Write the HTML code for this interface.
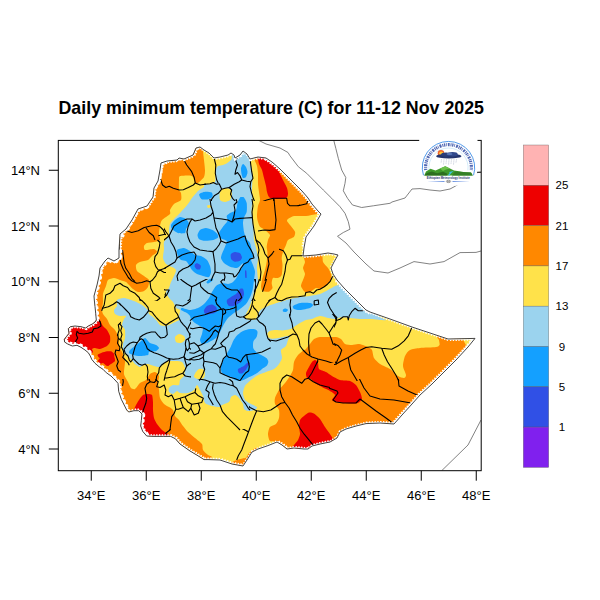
<!DOCTYPE html>
<html><head><meta charset="utf-8"><title>Daily minimum temperature</title>
<style>
html,body{margin:0;padding:0;background:#fff;}
body{width:600px;height:600px;overflow:hidden;position:relative;font-family:"Liberation Sans",sans-serif;}
svg{position:absolute;left:0;top:0;display:block;}
text{font-family:"Liberation Sans",sans-serif;fill:#000;}
.ax{font-size:13px;}
.cb{font-size:11.5px;}
.title{font-size:17.8px;font-weight:bold;}
</style></head><body>
<svg width="600" height="600" viewBox="0 0 600 600">
<defs><clipPath id="eth"><path d="M111 376 L106.3 372.7 L103 369.3 L99 366.7 L95 363.3 L91.7 359.3 L90.3 356 L88.3 352.7 L85 350 L81 347.3 L77 345.3 L72.3 346 L67.7 344 L64.6 342 L64.3 339.3 L66.3 336.7 L69 333.3 L68.3 328.7 L70.3 326.7 L75 326 L81 326.7 L85.7 328 L88.3 326 L92.3 324 L95 322 L96.3 320 L95.7 313.3 L95 306.7 L94.3 300 L94 296 L97 285 L99 276 L100 268 L105 261 L108 258 L114 261 L119 258 L119 250 L120 234 L126 229 L132 220 L138 209 L147 206 L153 197 L154 188 L158 181 L160 170 L161 163 L167 161 L177 160 L179 158 L184 159 L193 155 L196 148 L200 147 L204 150 L209 153 L214 158 L220 157 L228 155 L231 153 L234 155 L235 158 L240 155 L243 151 L247 154 L250 159 L258 157 L266 158 L272 162 L280 169 L288 177 L296 185 L302 191 L308 198 L312 204 L318 211 L321 214 L314 226 L306 237 L304 248 L303 256 L316 255 L328 253 L334 254 L338 255 L334 262 L331 268 L333 274 L337 280 L344 288 L352 296 L360 304 L366 310 L370 312 L390 319 L412 327 L430 333 L448 339 L475 338.4 L468 347 L456 360 L444 372 L432 384 L420 395 L412 404 L402 415 L394 424 L380 423 L366 423.6 L356 426 L346 429 L340 432 L337 438 L330 442 L320 444 L312 446 L308 449 L304 449 L294 448 L287 449 L282 445 L277 442 L268 445.6 L258 449 L252 452 L247 460 L243 466 L232 464 L220 460 L208 459.6 L204 459.6 L200 457 L190 451 L180 444 L175.3 438.7 L170.7 436.4 L163.3 436.4 L154 436.4 L146.7 436 L142.7 431.3 L140.7 426 L141.3 420.7 L142 414 L138.7 410.7 L134 410.7 L128.7 412 L126.7 410 L124.7 406 L121.3 399.3 L118.7 391.3 L118 383.3 L115 380 L113.7 378.7 Z"/></clipPath><clipPath id="frame"><rect x="58.3" y="140.4" width="422.9" height="330.3"/></clipPath><clipPath id="ag0"><rect x="-1" y="-1" width="207" height="202"/><rect x="-1" y="199" width="167" height="42"/></clipPath><clipPath id="ag1"><rect x="204" y="-1" width="197" height="202"/><rect x="279" y="199" width="122" height="42"/></clipPath><clipPath id="ag2"><rect x="279" y="239" width="67" height="62"/><rect x="254" y="279" width="27" height="22"/><rect x="269" y="299" width="77" height="17"/></clipPath><clipPath id="ag3"><rect x="344" y="279" width="97" height="37"/><rect x="334" y="314" width="107" height="67"/></clipPath><clipPath id="ag4"><rect x="329" y="379" width="152" height="102"/></clipPath><clipPath id="ag5"><rect x="-1" y="239" width="167" height="62"/><rect x="-1" y="299" width="122" height="37"/></clipPath><clipPath id="ag6"><rect x="-1" y="334" width="122" height="147"/><rect x="119" y="379" width="37" height="102"/></clipPath><clipPath id="ag7"><rect x="154" y="379" width="97" height="52"/></clipPath><clipPath id="ag8"><rect x="164" y="279" width="92" height="22"/></clipPath><clipPath id="ag9"><rect x="249" y="379" width="82" height="52"/><rect x="269" y="361" width="62" height="20"/><rect x="229" y="429" width="102" height="52"/></clipPath><clipPath id="ag10"><rect x="269" y="314" width="67" height="49"/></clipPath><clipPath id="ag11"><rect x="189" y="299" width="82" height="82"/></clipPath><clipPath id="ag12"><rect x="164" y="199" width="117" height="82"/></clipPath><clipPath id="ag13"><rect x="119" y="299" width="72" height="82"/></clipPath><clipPath id="ag14"><rect x="99" y="429" width="132" height="52"/></clipPath><clipPath id="ag15"><rect x="-1" y="-1" width="602" height="602"/></clipPath></defs>
<g clip-path="url(#eth)">
<path d="M111 376 L106.3 372.7 L103 369.3 L99 366.7 L95 363.3 L91.7 359.3 L90.3 356 L88.3 352.7 L85 350 L81 347.3 L77 345.3 L72.3 346 L67.7 344 L64.6 342 L64.3 339.3 L66.3 336.7 L69 333.3 L68.3 328.7 L70.3 326.7 L75 326 L81 326.7 L85.7 328 L88.3 326 L92.3 324 L95 322 L96.3 320 L95.7 313.3 L95 306.7 L94.3 300 L94 296 L97 285 L99 276 L100 268 L105 261 L108 258 L114 261 L119 258 L119 250 L120 234 L126 229 L132 220 L138 209 L147 206 L153 197 L154 188 L158 181 L160 170 L161 163 L167 161 L177 160 L179 158 L184 159 L193 155 L196 148 L200 147 L204 150 L209 153 L214 158 L220 157 L228 155 L231 153 L234 155 L235 158 L240 155 L243 151 L247 154 L250 159 L258 157 L266 158 L272 162 L280 169 L288 177 L296 185 L302 191 L308 198 L312 204 L318 211 L321 214 L314 226 L306 237 L304 248 L303 256 L316 255 L328 253 L334 254 L338 255 L334 262 L331 268 L333 274 L337 280 L344 288 L352 296 L360 304 L366 310 L370 312 L390 319 L412 327 L430 333 L448 339 L475 338.4 L468 347 L456 360 L444 372 L432 384 L420 395 L412 404 L402 415 L394 424 L380 423 L366 423.6 L356 426 L346 429 L340 432 L337 438 L330 442 L320 444 L312 446 L308 449 L304 449 L294 448 L287 449 L282 445 L277 442 L268 445.6 L258 449 L252 452 L247 460 L243 466 L232 464 L220 460 L208 459.6 L204 459.6 L200 457 L190 451 L180 444 L175.3 438.7 L170.7 436.4 L163.3 436.4 L154 436.4 L146.7 436 L142.7 431.3 L140.7 426 L141.3 420.7 L142 414 L138.7 410.7 L134 410.7 L128.7 412 L126.7 410 L124.7 406 L121.3 399.3 L118.7 391.3 L118 383.3 L115 380 L113.7 378.7 Z" fill="#ffe24a"/>
<path d="M203.0 146.0 C203.3 148.4 202.9 149.4 203.0 151.0 C203.1 152.6 203.8 157.8 204.0 160.0 C204.2 162.2 205.0 168.0 205.0 170.0 C205.0 172.0 204.8 175.5 204.0 177.0 C203.2 178.5 199.1 182.3 198.0 183.0 C196.9 183.7 195.6 183.7 195.0 183.0 C194.4 182.3 193.6 177.9 193.0 177.0 C192.4 176.1 191.5 175.5 190.0 175.4 C188.5 175.3 181.3 175.5 180.0 176.0 C178.7 176.5 179.1 178.4 179.0 180.0 C178.9 181.6 178.8 188.5 179.0 190.0 C179.2 191.5 180.8 191.8 181.0 193.0 C181.2 194.2 181.8 198.7 181.0 200.0 C180.2 201.3 175.3 202.8 174.0 204.0 C172.7 205.2 170.5 208.8 170.0 210.0 C169.5 211.2 170.9 212.8 170.0 214.0 C169.1 215.2 163.2 218.6 162.0 220.0 C160.8 221.4 160.3 224.4 160.0 226.0 C159.7 227.6 159.0 232.4 159.0 234.0 C159.0 235.6 160.6 239.1 160.0 240.0 C159.4 240.9 155.5 241.7 154.0 242.0 C152.5 242.3 148.2 242.5 147.0 243.0 C145.8 243.5 144.2 245.2 144.0 246.0 C143.8 246.8 143.8 249.7 145.0 250.0 C146.2 250.3 152.6 248.8 154.0 249.0 C155.4 249.2 157.2 251.2 157.0 252.0 C156.8 252.8 153.1 255.1 152.0 256.0 C150.9 256.9 149.4 259.3 148.0 260.0 C146.6 260.7 141.4 261.4 140.0 262.0 C138.6 262.6 136.3 263.9 136.0 265.0 C135.7 266.1 136.1 269.7 137.0 271.0 C137.9 272.3 142.6 274.9 144.0 276.0 C145.4 277.1 148.5 278.7 149.0 280.0 C149.5 281.3 148.6 285.7 148.0 287.0 C147.4 288.3 145.2 290.4 144.0 291.0 C142.8 291.6 139.3 292.2 138.0 292.0 C136.7 291.8 134.1 289.8 133.0 289.0 C131.9 288.2 129.8 285.8 129.0 285.0 C128.2 284.2 127.0 282.6 126.0 282.0 C125.0 281.4 121.4 280.5 120.0 280.0 C118.6 279.5 115.4 278.0 114.0 278.0 C112.6 278.0 108.9 279.1 108.0 280.0 C107.1 280.9 106.6 284.4 106.0 286.0 C105.4 287.6 103.3 292.1 103.0 294.0 C102.7 295.9 103.1 300.1 103.0 302.0 C102.9 303.9 102.0 308.6 102.0 310.0 C102.0 311.4 102.4 312.9 103.0 314.0 C103.6 315.1 106.2 317.7 107.0 319.0 C107.8 320.3 109.1 323.7 110.0 325.0 C110.9 326.3 114.1 328.7 115.0 330.0 C115.9 331.3 117.5 334.4 118.0 336.0 C118.5 337.6 118.7 342.4 119.0 344.0 C119.3 345.6 120.4 348.6 121.0 350.0 C121.6 351.4 123.5 354.6 124.0 356.0 C124.5 357.4 125.0 359.9 125.0 362.0 C125.0 364.1 123.7 371.7 124.0 374.0 C124.3 376.3 127.2 380.4 128.0 382.0 C128.8 383.6 130.2 387.2 131.0 388.0 C131.8 388.8 133.9 389.6 135.0 389.0 C136.1 388.4 138.7 384.1 140.0 383.0 C141.3 381.9 144.8 381.1 146.0 380.0 C147.2 378.9 148.9 374.9 150.0 374.0 C151.1 373.1 153.9 371.8 155.0 372.0 C156.1 372.2 158.7 374.7 159.0 376.0 C159.3 377.3 158.0 381.4 158.0 383.0 C158.0 384.6 158.8 388.2 159.0 390.0 C159.2 391.8 159.4 396.4 160.0 398.0 C160.6 399.6 162.9 402.9 164.0 404.0 C165.1 405.1 167.9 406.3 169.0 407.0 C170.1 407.7 172.3 408.9 173.0 410.0 C173.7 411.1 174.3 414.8 175.0 416.0 C175.7 417.2 178.1 418.8 179.0 420.0 C179.9 421.2 181.9 424.6 183.0 426.0 C184.1 427.4 186.6 430.6 188.0 432.0 C189.4 433.4 193.4 436.6 195.0 438.0 C196.6 439.4 201.1 442.6 202.0 444.0 C202.9 445.4 202.3 448.7 203.0 450.0 C203.7 451.3 206.9 454.2 208.0 455.0 C209.1 455.8 211.9 456.2 212.0 457.0 C212.1 457.8 209.8 459.3 209.0 462.0 C208.2 464.7 223.6 477.9 205.0 480.0 C186.4 482.1 68.1 520.8 50.0 480.0 C31.9 439.2 32.5 170.8 50.0 130.0 C67.5 89.2 182.2 128.1 200.0 130.0 C217.8 131.9 202.7 143.6 203.0 146.0 Z" fill="#ff8800"/>
<path d="M231.0 463.0 C231.0 462.1 237.0 460.0 238.3 459.5 C239.6 459.0 241.6 458.7 242.5 458.5 C243.4 458.3 245.0 458.4 245.8 457.8 C246.6 457.2 248.1 454.0 249.0 453.0 C249.9 452.0 252.4 450.1 253.3 449.5 C254.2 448.9 256.5 447.4 257.0 447.5 C257.5 447.6 258.6 449.0 258.0 450.0 C257.4 451.0 253.3 454.6 252.0 456.0 C250.7 457.4 247.8 460.6 247.0 462.0 C246.2 463.4 246.1 467.4 245.0 468.0 C243.9 468.6 239.6 467.6 238.0 467.0 C236.4 466.4 231.0 463.9 231.0 463.0 Z" fill="#ff8800"/>
<path d="M253.0 154.0 C252.9 156.2 253.5 157.6 254.0 159.0 C254.5 160.4 256.5 164.2 257.0 166.0 C257.5 167.8 257.9 171.9 258.0 174.0 C258.1 176.1 257.9 181.9 258.0 184.0 C258.1 186.1 258.8 190.1 259.0 192.0 C259.2 193.9 260.1 198.4 260.0 200.0 C259.9 201.6 258.4 204.1 258.0 206.0 C257.6 207.9 257.0 214.1 257.0 216.0 C257.0 217.9 257.6 220.8 258.0 222.0 C258.4 223.2 259.2 225.8 260.0 226.7 C260.8 227.6 263.8 229.0 265.0 230.0 C266.2 231.0 269.6 233.8 270.0 235.0 C270.4 236.2 268.4 238.6 268.0 240.0 C267.6 241.4 266.8 245.2 266.7 246.7 C266.6 248.2 267.5 251.2 267.5 253.0 C267.5 254.8 267.0 259.7 266.7 261.7 C266.4 263.7 265.5 268.1 265.0 270.0 C264.5 271.9 263.0 276.1 262.5 278.0 C262.0 279.9 261.0 285.2 261.0 286.7 C261.0 288.2 261.6 290.4 262.5 291.0 C263.4 291.6 267.8 292.1 269.0 291.7 C270.2 291.3 272.2 289.0 272.5 288.0 C272.8 287.0 271.6 284.2 271.7 283.0 C271.8 281.8 272.3 278.6 273.0 278.0 C273.7 277.4 277.0 278.4 278.0 278.0 C279.0 277.6 281.2 276.5 281.7 275.0 C282.2 273.5 282.5 267.0 282.5 265.0 C282.5 263.0 281.6 259.6 281.7 258.0 C281.8 256.4 282.5 253.2 283.0 251.7 C283.5 250.2 285.4 246.4 286.0 245.0 C286.6 243.6 287.1 241.0 288.0 240.0 C288.9 239.0 293.2 237.7 294.0 236.7 C294.8 235.7 295.5 233.1 295.0 231.7 C294.5 230.3 290.9 226.2 290.0 225.0 C289.1 223.8 287.2 221.7 287.0 221.0 C286.8 220.3 287.2 219.6 288.0 219.0 C288.8 218.4 291.9 216.3 294.0 216.0 C296.1 215.7 303.3 216.2 306.0 216.0 C308.7 215.8 314.2 214.5 317.0 214.0 C319.8 213.5 328.5 214.8 330.0 212.0 C331.5 209.2 333.5 197.2 330.0 190.0 C326.5 182.8 308.8 155.8 300.0 150.0 C291.2 144.2 260.5 139.5 255.0 140.0 C249.5 140.5 253.1 151.8 253.0 154.0 Z" fill="#ff8800"/>
<path d="M304.0 254.0 C305.9 252.8 318.8 251.1 321.0 252.0 C323.2 252.9 322.2 260.1 323.0 262.0 C323.8 263.9 327.1 266.6 328.0 268.0 C328.9 269.4 330.6 272.6 331.0 274.0 C331.4 275.4 331.6 278.6 331.0 280.0 C330.4 281.4 327.3 284.9 326.0 286.0 C324.7 287.1 321.2 288.8 320.0 289.0 C318.8 289.2 317.2 287.6 316.0 288.0 C314.8 288.4 311.3 291.5 310.0 292.0 C308.7 292.5 306.1 292.7 305.0 292.0 C303.9 291.3 301.2 287.4 301.0 286.0 C300.8 284.6 302.5 281.4 303.0 280.0 C303.5 278.6 305.0 275.4 305.0 274.0 C305.0 272.6 303.0 269.4 303.0 268.0 C303.0 266.6 304.9 263.6 305.0 262.0 C305.1 260.4 302.1 255.2 304.0 254.0 Z" fill="#ff8800"/>
<path d="M279.0 446.0 C279.8 442.7 278.1 442.6 277.0 442.0 C275.9 441.4 271.1 441.9 270.0 441.0 C268.9 440.1 268.0 435.6 268.0 434.0 C268.0 432.4 269.1 428.2 270.0 427.0 C270.9 425.8 274.9 425.1 276.0 424.0 C277.1 422.9 278.6 419.6 279.0 418.0 C279.4 416.4 279.5 411.6 279.0 410.0 C278.5 408.4 275.5 405.4 275.0 404.0 C274.5 402.6 274.5 399.6 275.0 398.0 C275.5 396.4 277.8 391.8 279.0 390.0 C280.2 388.2 283.7 384.6 285.0 383.0 C286.3 381.4 289.1 377.5 290.0 376.0 C290.9 374.5 292.5 371.6 293.0 370.0 C293.5 368.4 293.4 363.8 294.0 362.0 C294.6 360.2 296.8 356.4 298.0 355.0 C299.2 353.6 303.2 350.6 304.0 350.0 C304.8 349.4 304.3 350.7 305.0 350.0 C305.7 349.3 308.9 345.3 310.0 344.0 C311.1 342.7 312.8 339.8 314.0 339.0 C315.2 338.2 318.4 337.2 320.0 337.0 C321.6 336.8 326.1 337.0 328.0 337.0 C329.9 337.0 334.5 336.8 336.0 337.0 C337.5 337.2 339.9 338.2 341.0 339.0 C342.1 339.8 343.7 343.3 345.0 344.0 C346.3 344.7 350.5 345.0 352.0 345.0 C353.5 345.0 356.7 344.0 358.0 344.0 C359.3 344.0 361.8 344.6 363.0 345.0 C364.2 345.4 366.9 346.4 368.0 347.0 C369.1 347.6 371.3 348.7 372.0 350.0 C372.7 351.3 373.1 356.4 374.0 358.0 C374.9 359.6 378.1 362.7 380.0 364.0 C381.9 365.3 387.9 367.6 390.0 369.0 C392.1 370.4 396.4 374.9 398.0 376.0 C399.6 377.1 403.1 378.1 404.0 378.0 C404.9 377.9 406.1 376.4 406.0 375.0 C405.9 373.6 403.1 368.2 403.0 366.0 C402.9 363.8 404.2 357.9 405.0 356.0 C405.8 354.1 408.2 350.9 410.0 350.0 C411.8 349.1 417.0 348.4 420.0 348.0 C423.0 347.6 433.7 347.4 436.0 347.0 C438.3 346.6 439.1 345.8 439.5 345.0 C439.9 344.2 439.1 341.3 439.0 340.0 C438.9 338.7 433.7 335.2 438.5 334.0 C443.3 332.8 474.0 328.7 480.0 330.0 C486.0 331.3 499.3 332.2 490.0 345.0 C480.7 357.8 418.7 425.4 400.0 440.0 C381.3 454.6 345.2 466.5 330.0 470.0 C314.8 473.5 275.9 472.8 270.0 470.0 C264.1 467.2 278.2 449.3 279.0 446.0 Z" fill="#ff8800"/>
<path d="M256.0 154.0 C256.9 153.5 264.1 153.9 266.0 155.0 C267.9 156.1 270.7 161.5 272.0 163.0 C273.3 164.5 276.1 166.7 277.0 168.0 C277.9 169.3 279.2 172.4 280.0 174.0 C280.8 175.6 283.2 180.4 284.0 182.0 C284.8 183.6 286.5 186.6 287.0 188.0 C287.5 189.4 288.1 192.8 288.0 194.0 C287.9 195.2 287.6 197.4 286.0 198.0 C284.4 198.6 276.0 199.1 274.0 199.0 C272.0 198.9 269.8 197.8 269.0 197.0 C268.2 196.2 267.4 193.3 267.0 192.0 C266.6 190.7 266.4 187.6 266.0 186.0 C265.6 184.4 264.5 179.9 264.0 178.0 C263.5 176.1 262.6 171.6 262.0 170.0 C261.4 168.4 259.5 165.3 259.0 164.0 C258.5 162.7 258.4 160.2 258.0 159.0 C257.6 157.8 255.1 154.5 256.0 154.0 Z" fill="#ee0000"/>
<path d="M68.0 330.0 C68.5 328.9 69.6 327.5 71.0 327.0 C72.4 326.5 78.2 326.1 80.0 326.0 C81.8 325.9 84.6 326.2 86.0 326.0 C87.4 325.8 91.2 324.6 92.0 324.0 C92.8 323.4 92.6 322.4 93.0 321.0 C93.4 319.6 95.0 312.9 95.5 312.0 C96.0 311.1 97.2 312.3 97.5 313.0 C97.8 313.7 98.2 317.2 98.5 318.0 C98.8 318.8 99.5 319.1 100.0 320.0 C100.5 320.9 102.2 324.8 103.0 326.0 C103.8 327.2 106.2 328.8 107.0 330.0 C107.8 331.2 109.7 334.6 110.0 336.0 C110.3 337.4 110.3 340.8 110.0 342.0 C109.7 343.2 107.8 345.3 107.0 346.0 C106.2 346.7 103.9 347.6 103.0 348.0 C102.1 348.4 99.9 349.0 99.0 349.0 C98.1 349.0 95.8 348.0 95.0 348.0 C94.2 348.0 92.2 348.5 92.0 349.0 C91.8 349.5 93.2 351.4 93.0 352.0 C92.8 352.6 90.8 354.2 90.0 354.0 C89.2 353.8 87.2 350.6 86.0 350.0 C84.8 349.4 81.4 349.4 80.0 349.0 C78.6 348.6 75.9 347.4 74.0 347.0 C72.1 346.6 65.4 346.7 64.0 346.0 C62.6 345.3 61.6 342.2 62.0 341.0 C62.4 339.8 66.3 337.3 67.0 336.0 C67.7 334.7 67.5 331.1 68.0 330.0 Z" fill="#ee0000"/>
<path d="M97.7 354.7 C98.1 354.2 100.6 353.1 101.7 352.7 C102.8 352.3 105.9 351.5 107.0 351.3 C108.1 351.1 110.2 351.1 111.0 351.3 C111.8 351.5 113.3 352.8 113.7 353.3 C114.1 353.8 114.5 355.2 114.3 356.0 C114.1 356.8 112.8 359.1 112.3 360.0 C111.8 360.9 110.8 362.6 110.3 363.3 C109.8 364.0 108.8 365.9 108.3 366.0 C107.8 366.1 106.3 364.5 105.7 364.0 C105.1 363.5 103.6 361.9 103.0 361.3 C102.4 360.7 100.8 359.2 100.3 358.7 C99.8 358.2 98.6 357.2 98.3 356.7 C98.0 356.2 97.3 355.2 97.7 354.7 Z" fill="#ee0000"/>
<path d="M143.0 395.0 C144.1 394.3 146.9 394.0 148.0 394.0 C149.1 394.0 151.4 394.1 152.0 395.0 C152.6 395.9 152.9 400.2 153.0 402.0 C153.1 403.8 152.9 408.1 153.0 410.0 C153.1 411.9 153.5 416.4 154.0 418.0 C154.5 419.6 156.1 422.6 157.0 424.0 C157.9 425.4 160.7 428.8 162.0 430.0 C163.3 431.2 167.1 433.2 168.0 434.0 C168.9 434.8 169.8 436.3 170.0 437.0 C170.2 437.7 172.6 439.6 170.0 440.0 C167.4 440.4 151.2 440.6 148.0 440.0 C144.8 439.4 143.9 436.5 143.0 435.0 C142.1 433.5 140.3 429.0 140.0 427.0 C139.7 425.0 140.2 419.8 140.0 418.0 C139.8 416.2 138.7 412.9 138.0 412.0 C137.3 411.1 134.2 410.8 134.0 410.0 C133.8 409.2 135.4 406.2 136.0 405.0 C136.6 403.8 138.2 401.2 139.0 400.0 C139.8 398.8 141.9 395.7 143.0 395.0 Z" fill="#ee0000"/>
<path d="M100.0 358.0 C100.7 357.2 102.8 354.6 104.0 354.0 C105.2 353.4 108.8 352.8 110.0 353.0 C111.2 353.2 113.4 355.1 114.0 356.0 C114.6 356.9 115.3 360.1 115.0 361.0 C114.7 361.9 111.9 363.4 111.0 364.0 C110.1 364.6 107.9 366.1 107.0 366.0 C106.1 365.9 103.8 363.2 103.0 363.0 C102.2 362.8 100.6 364.2 100.0 364.0 C99.4 363.8 98.0 361.7 98.0 361.0 C98.0 360.3 99.3 358.8 100.0 358.0 Z" fill="#ee0000"/>
<path d="M315.0 360.0 C315.7 360.1 317.5 361.9 318.0 363.0 C318.5 364.1 318.1 367.9 319.0 369.0 C319.9 370.1 324.5 371.2 326.0 372.0 C327.5 372.8 330.4 375.1 332.0 376.0 C333.6 376.9 337.9 379.4 340.0 380.0 C342.1 380.6 348.1 380.4 350.0 381.0 C351.9 381.6 354.8 383.7 356.0 385.0 C357.2 386.3 359.3 390.4 360.0 392.0 C360.7 393.6 362.2 397.7 362.0 399.0 C361.8 400.3 359.3 402.5 358.0 403.0 C356.7 403.5 352.8 403.6 351.0 403.6 C349.2 403.6 344.8 403.2 343.0 403.0 C341.2 402.8 337.3 402.4 336.0 402.0 C334.7 401.6 332.1 400.8 332.0 400.0 C331.9 399.2 335.2 396.1 335.0 395.0 C334.8 393.9 331.5 391.9 330.0 391.0 C328.5 390.1 323.8 387.9 322.0 387.0 C320.2 386.1 316.3 383.9 315.0 383.0 C313.7 382.1 311.9 379.6 311.0 379.0 C310.1 378.4 307.6 378.7 307.0 378.0 C306.4 377.3 305.8 374.3 306.0 373.0 C306.2 371.7 308.3 368.3 309.0 367.0 C309.7 365.7 311.3 362.8 312.0 362.0 C312.7 361.2 314.3 359.9 315.0 360.0 Z" fill="#ee0000"/>
<path d="M291.0 449.0 C291.5 447.8 293.2 446.1 294.0 445.0 C294.8 443.9 297.3 441.3 298.0 440.0 C298.7 438.7 299.9 435.5 300.0 434.0 C300.1 432.5 299.0 428.6 299.0 427.0 C299.0 425.4 299.4 421.3 300.0 420.0 C300.6 418.7 302.9 416.9 304.0 416.0 C305.1 415.1 307.8 412.8 309.0 412.5 C310.2 412.2 312.7 412.8 314.0 413.6 C315.3 414.4 318.7 417.4 320.0 419.0 C321.3 420.6 323.8 425.2 325.0 427.0 C326.2 428.8 329.1 432.6 330.0 434.0 C330.9 435.4 332.4 437.7 333.0 439.0 C333.6 440.3 335.4 443.1 335.0 445.0 C334.6 446.9 335.2 453.8 330.0 455.0 C324.8 456.2 294.6 455.7 290.0 455.0 C285.4 454.3 290.5 450.2 291.0 449.0 Z" fill="#ee0000"/>
<path d="M233.0 152.0 C231.0 152.8 232.2 157.8 231.6 159.0 C231.0 160.2 229.0 161.7 228.0 162.4 C227.0 163.1 224.2 164.6 223.0 165.0 C221.8 165.4 218.8 165.5 218.0 166.0 C217.2 166.5 216.3 167.8 216.0 169.0 C215.7 170.2 215.7 174.5 215.6 176.0 C215.5 177.5 215.5 181.1 215.0 182.0 C214.5 182.9 212.3 183.7 211.0 184.0 C209.7 184.3 204.8 184.1 204.0 184.4 C203.2 184.8 204.7 186.2 204.0 187.0 C203.3 187.8 199.4 189.7 198.0 191.0 C196.6 192.3 193.2 196.5 192.0 198.0 C190.8 199.5 189.4 202.2 188.0 204.0 C186.6 205.8 181.6 211.2 180.0 213.0 C178.4 214.8 175.2 217.7 174.0 219.0 C172.8 220.3 170.6 222.7 170.0 224.0 C169.4 225.3 169.1 228.6 169.0 230.0 C168.9 231.4 169.6 234.6 169.0 236.0 C168.4 237.4 164.6 240.5 164.0 242.0 C163.4 243.5 164.1 247.5 164.0 249.0 C163.9 250.5 163.0 254.9 163.0 255.0 C163.0 255.1 164.0 249.7 164.0 250.0 C164.0 250.3 162.8 256.4 163.0 258.0 C163.2 259.6 164.9 262.9 166.0 264.0 C167.1 265.1 170.8 266.3 172.0 267.0 C173.2 267.7 175.8 268.9 176.0 270.0 C176.2 271.1 174.6 274.6 174.0 276.0 C173.4 277.4 171.6 280.6 171.0 282.0 C170.4 283.4 169.6 286.8 169.0 288.0 C168.4 289.2 166.0 290.8 166.0 292.0 C166.0 293.2 168.2 296.8 169.0 298.0 C169.8 299.2 172.2 300.8 173.0 302.0 C173.8 303.2 175.2 307.1 176.0 308.0 C176.8 308.9 179.7 309.1 180.0 310.0 C180.3 310.9 179.1 314.8 179.0 316.0 C178.9 317.2 179.8 319.1 179.0 320.0 C178.2 320.9 173.5 322.8 172.0 323.5 C170.5 324.2 167.4 325.8 166.0 326.0 C164.6 326.2 161.1 325.6 160.0 325.0 C158.9 324.4 157.8 321.9 157.0 321.0 C156.2 320.1 153.9 317.8 153.0 317.0 C152.1 316.2 149.6 314.8 149.0 314.0 C148.4 313.2 148.8 311.1 148.0 310.0 C147.2 308.9 143.6 306.1 142.0 305.0 C140.4 303.9 136.1 301.8 134.0 301.0 C131.9 300.2 126.0 298.1 124.0 298.0 C122.0 297.9 117.8 299.1 117.0 300.0 C116.2 300.9 117.3 304.8 117.0 306.0 C116.7 307.2 114.2 309.1 114.0 310.0 C113.8 310.9 114.3 313.3 115.0 314.0 C115.7 314.7 118.7 315.8 120.0 316.0 C121.3 316.2 125.5 315.6 126.0 316.0 C126.5 316.4 124.5 317.9 124.0 319.0 C123.5 320.1 121.9 323.7 122.0 325.0 C122.1 326.3 124.7 328.5 125.0 330.0 C125.3 331.5 125.2 336.4 125.0 338.0 C124.8 339.6 123.2 342.6 123.0 344.0 C122.8 345.4 122.5 348.6 123.0 350.0 C123.5 351.4 126.2 355.1 127.0 356.0 C127.8 356.9 129.1 357.1 130.0 358.0 C130.9 358.9 133.8 362.9 135.0 364.0 C136.2 365.1 139.1 366.9 140.0 367.0 C140.9 367.1 142.1 365.4 143.0 365.0 C143.9 364.6 146.7 363.9 148.0 364.0 C149.3 364.1 152.6 365.6 154.0 366.0 C155.4 366.4 158.8 367.4 160.0 367.0 C161.2 366.6 162.9 363.7 164.0 363.0 C165.1 362.3 167.6 361.2 169.0 361.0 C170.4 360.8 174.5 360.9 176.0 361.0 C177.5 361.1 180.9 361.2 182.0 362.0 C183.1 362.8 184.8 366.4 185.0 368.0 C185.2 369.6 184.6 374.6 184.0 376.0 C183.4 377.4 180.6 378.9 180.0 380.0 C179.4 381.1 179.8 384.4 179.0 385.0 C178.2 385.6 174.2 384.6 173.0 385.0 C171.8 385.4 169.5 387.2 169.0 388.0 C168.5 388.8 168.5 391.3 169.0 392.0 C169.5 392.7 172.1 394.1 173.0 394.0 C173.9 393.9 176.2 391.1 177.0 391.0 C177.8 390.9 178.7 392.8 180.0 393.0 C181.3 393.2 186.4 393.4 188.0 393.0 C189.6 392.6 192.9 390.9 194.0 390.0 C195.1 389.1 196.3 385.0 197.0 385.0 C197.7 385.0 199.3 388.7 200.0 390.0 C200.7 391.3 202.4 394.5 203.0 396.0 C203.6 397.5 203.9 401.8 205.0 403.0 C206.1 404.2 210.2 405.5 212.0 406.0 C213.8 406.5 218.8 407.1 220.0 407.0 C221.2 406.9 220.9 405.6 222.0 405.0 C223.1 404.4 227.9 402.9 229.0 402.0 C230.1 401.1 230.3 397.8 231.0 397.0 C231.7 396.2 234.1 394.9 235.0 395.0 C235.9 395.1 238.1 396.9 239.0 398.0 C239.9 399.1 242.4 402.7 243.0 404.0 C243.6 405.3 243.4 408.2 244.0 409.0 C244.6 409.8 246.7 410.9 248.0 411.0 C249.3 411.1 253.9 410.5 255.0 410.0 C256.1 409.5 257.5 407.7 257.0 407.0 C256.5 406.3 252.4 404.8 251.0 404.0 C249.6 403.2 245.9 401.3 245.0 400.0 C244.1 398.7 243.0 394.6 243.0 393.0 C243.0 391.4 244.1 387.5 245.0 386.0 C245.9 384.5 249.5 381.3 251.0 380.0 C252.5 378.7 256.2 375.9 258.0 375.0 C259.8 374.1 264.1 372.7 266.0 372.0 C267.9 371.3 272.5 369.9 274.0 369.0 C275.5 368.1 278.1 365.3 279.0 364.0 C279.9 362.7 281.8 359.6 282.0 358.0 C282.2 356.4 280.5 351.4 281.0 350.0 C281.5 348.6 285.2 347.2 286.0 346.0 C286.8 344.8 287.5 341.3 288.0 340.0 C288.5 338.7 290.5 335.5 290.0 335.0 C289.5 334.5 285.6 335.6 284.0 336.0 C282.4 336.4 277.6 337.9 276.0 338.0 C274.4 338.1 270.2 337.5 270.0 337.0 C269.8 336.5 272.8 334.5 274.0 334.0 C275.2 333.5 278.4 333.4 280.0 333.0 C281.6 332.6 286.4 331.7 288.0 331.0 C289.6 330.3 292.6 327.9 294.0 327.0 C295.4 326.1 298.6 323.8 300.0 323.0 C301.4 322.2 304.6 320.5 306.0 320.0 C307.4 319.5 310.4 319.5 312.0 319.0 C313.6 318.5 318.1 316.1 320.0 316.0 C321.9 315.9 326.1 317.6 328.0 318.0 C329.9 318.4 334.4 319.1 336.0 319.0 C337.6 318.9 340.4 317.1 342.0 317.0 C343.6 316.9 347.9 317.8 350.0 318.0 C352.1 318.2 357.4 318.9 360.0 319.0 C362.6 319.1 369.7 318.9 372.0 319.0 C374.3 319.1 378.4 319.9 380.0 320.0 C381.6 320.1 386.0 320.4 386.0 320.0 C386.0 319.6 381.6 318.2 380.0 317.0 C378.4 315.8 374.3 311.8 372.0 310.0 C369.7 308.2 363.1 305.5 360.0 302.0 C356.9 298.5 347.6 283.1 345.0 280.0 C342.4 276.9 338.6 274.5 338.0 275.0 C337.4 275.5 340.4 282.7 340.0 284.0 C339.6 285.3 336.4 285.3 335.0 286.0 C333.6 286.7 329.8 289.1 328.0 290.0 C326.2 290.9 322.1 293.3 320.0 294.0 C317.9 294.7 312.3 295.6 310.0 296.0 C307.7 296.4 302.3 296.6 300.0 297.0 C297.7 297.4 292.3 298.4 290.0 299.0 C287.7 299.6 282.6 301.2 280.0 302.0 C277.4 302.8 270.3 305.0 268.0 306.0 C265.7 307.0 261.4 308.9 260.0 310.4 C258.6 311.9 257.2 317.9 256.0 319.0 C254.8 320.1 251.3 320.1 250.0 320.0 C248.7 319.9 245.5 318.7 245.0 318.0 C244.5 317.3 245.5 315.2 246.0 314.0 C246.5 312.8 248.3 309.6 249.0 308.0 C249.7 306.4 251.4 301.9 252.0 300.0 C252.6 298.1 253.4 293.4 254.0 292.0 C254.6 290.6 256.5 289.4 257.0 288.0 C257.5 286.6 258.0 282.3 258.0 280.0 C258.0 277.7 257.0 270.6 257.0 268.0 C257.0 265.4 258.1 260.3 258.0 258.0 C257.9 255.7 256.5 250.1 256.0 248.0 C255.5 245.9 254.3 242.1 254.0 240.0 C253.7 237.9 253.8 232.3 253.6 230.0 C253.4 227.7 252.6 222.3 252.4 220.0 C252.2 217.7 251.6 212.3 251.6 210.0 C251.6 207.7 252.4 202.3 252.4 200.0 C252.4 197.7 252.0 192.3 252.0 190.0 C252.0 187.7 252.4 182.3 252.4 180.0 C252.4 177.7 252.3 172.3 252.0 170.0 C251.7 167.7 250.3 162.1 250.0 160.0 C249.7 157.9 251.0 152.9 249.0 152.0 C247.0 151.1 235.0 151.2 233.0 152.0 Z" fill="#9bd3ee"/>
<path d="M220.0 192.0 C220.5 190.6 222.8 188.3 224.0 188.0 C225.2 187.7 229.1 188.3 230.0 189.0 C230.9 189.7 232.0 192.7 232.0 194.0 C232.0 195.3 230.8 199.1 230.0 200.0 C229.2 200.9 226.2 202.0 225.0 202.0 C223.8 202.0 220.6 201.2 220.0 200.0 C219.4 198.8 219.5 193.4 220.0 192.0 Z" fill="#ffe24a"/>
<path d="M207.0 205.6 C207.2 205.2 209.5 204.8 210.0 205.0 C210.5 205.2 211.4 206.7 211.2 207.0 C211.0 207.3 208.5 208.2 208.0 208.0 C207.5 207.8 206.8 205.9 207.0 205.6 Z" fill="#ffe24a"/>
<path d="M175.0 337.0 C175.3 336.1 177.9 334.1 179.0 334.0 C180.1 333.9 183.3 335.3 184.0 336.0 C184.7 336.7 185.3 339.2 185.0 340.0 C184.7 340.8 182.1 342.8 181.0 343.0 C179.9 343.2 176.7 342.7 176.0 342.0 C175.3 341.3 174.7 337.9 175.0 337.0 Z" fill="#ffe24a"/>
<path d="M194.0 376.0 C194.1 375.3 195.4 372.8 196.0 372.0 C196.6 371.2 198.2 369.4 199.0 369.0 C199.8 368.6 202.3 368.5 203.0 369.0 C203.7 369.5 204.9 371.9 205.0 373.0 C205.1 374.1 204.7 377.3 204.0 378.0 C203.3 378.7 200.1 379.0 199.0 379.0 C197.9 379.0 195.6 378.4 195.0 378.0 C194.4 377.6 193.9 376.7 194.0 376.0 Z" fill="#ffe24a"/>
<path d="M461.5 337 L480 337 L467 347 Z" fill="#ffe24a"/>
<path d="M267.7 332.7 C268.0 332.2 269.4 331.0 270.3 330.7 C271.2 330.4 274.3 330.0 275.7 330.0 C277.1 330.0 280.7 330.4 282.3 330.4 C283.9 330.4 287.4 330.0 289.0 329.6 C290.6 329.2 294.5 327.8 295.7 327.3 C296.9 326.8 299.2 324.4 299.7 325.3 C300.2 326.2 300.3 333.6 299.7 334.7 C299.1 335.8 295.5 334.8 294.3 334.9 C293.1 335.0 290.2 335.5 289.0 335.7 C287.8 335.9 284.9 336.4 283.7 336.7 C282.5 337.0 279.5 337.8 278.3 338.0 C277.1 338.2 274.1 338.7 273.0 338.7 C271.9 338.7 269.7 338.4 269.0 338.0 C268.3 337.6 267.6 335.9 267.4 335.3 C267.2 334.7 267.4 333.2 267.7 332.7 Z" fill="#ffe24a"/>
<path d="M199.2 194.2 C199.6 193.3 203.5 191.9 205.0 191.7 C206.5 191.5 210.8 191.9 211.7 192.5 C212.6 193.1 212.9 195.9 212.5 196.7 C212.1 197.5 209.6 198.9 208.3 199.2 C207.0 199.5 202.8 199.8 201.7 199.2 C200.6 198.6 198.8 195.1 199.2 194.2 Z" fill="#14a0ff"/>
<path d="M243.0 164.0 C243.6 163.9 245.5 166.1 246.0 167.0 C246.5 167.9 247.5 170.8 247.5 172.0 C247.5 173.2 246.5 176.3 246.0 177.0 C245.5 177.7 243.5 178.3 243.0 178.0 C242.5 177.7 241.7 175.2 241.5 174.0 C241.3 172.8 240.8 169.2 241.0 168.0 C241.2 166.8 242.4 164.1 243.0 164.0 Z" fill="#14a0ff"/>
<path d="M175.0 220.0 C176.1 219.1 178.7 217.1 180.0 217.0 C181.3 216.9 184.9 218.2 186.0 219.0 C187.1 219.8 189.0 222.8 189.0 224.0 C189.0 225.2 186.5 227.9 186.0 229.0 C185.5 230.1 185.9 232.5 185.0 233.0 C184.1 233.5 179.5 233.5 178.0 233.0 C176.5 232.5 172.8 229.9 172.0 229.0 C171.2 228.1 170.7 226.1 171.0 225.0 C171.3 223.9 173.9 220.9 175.0 220.0 Z" fill="#14a0ff"/>
<path d="M197.5 235.0 C197.6 233.9 199.0 230.8 200.0 230.0 C201.0 229.2 204.3 228.0 205.8 228.0 C207.3 228.0 211.1 229.3 212.5 230.0 C213.9 230.7 216.9 233.3 217.5 234.2 C218.1 235.1 218.5 236.8 218.0 237.5 C217.5 238.2 214.8 239.6 213.3 240.0 C211.8 240.4 206.6 240.9 205.0 240.8 C203.4 240.7 200.1 239.9 199.2 239.2 C198.3 238.5 197.4 236.1 197.5 235.0 Z" fill="#14a0ff"/>
<path d="M177.0 250.0 C177.7 249.1 182.5 247.9 184.0 248.0 C185.5 248.1 188.7 250.2 190.0 251.0 C191.3 251.8 193.7 254.4 195.0 255.0 C196.3 255.6 199.6 255.4 201.0 256.0 C202.4 256.6 205.9 258.8 207.0 260.0 C208.1 261.2 209.5 264.6 210.0 266.0 C210.5 267.4 211.1 270.7 211.0 272.0 C210.9 273.3 209.9 276.5 209.0 277.0 C208.1 277.5 204.4 276.4 203.0 276.0 C201.6 275.6 198.3 274.7 197.0 274.0 C195.7 273.3 192.9 271.1 192.0 270.0 C191.1 268.9 189.7 266.1 189.0 265.0 C188.3 263.9 186.9 261.6 186.0 261.0 C185.1 260.4 181.9 260.6 181.0 260.0 C180.1 259.4 178.5 257.2 178.0 256.0 C177.5 254.8 176.3 250.9 177.0 250.0 Z" fill="#14a0ff"/>
<path d="M242.0 197.0 C242.5 197.0 243.5 196.8 244.0 197.5 C244.5 198.2 246.4 201.3 246.7 203.0 C247.0 204.7 247.0 210.0 246.7 211.7 C246.4 213.4 244.4 216.2 244.0 217.5 C243.6 218.8 243.0 221.3 243.0 223.0 C243.0 224.7 243.7 229.9 244.0 231.7 C244.3 233.4 245.3 236.7 246.0 238.0 C246.7 239.3 249.3 241.6 250.0 243.0 C250.7 244.4 251.3 248.4 251.7 250.0 C252.0 251.6 253.1 255.5 253.0 256.7 C252.9 257.9 251.0 259.0 251.0 260.0 C251.0 261.0 252.5 263.6 253.0 265.0 C253.5 266.4 254.9 269.9 255.0 271.7 C255.1 273.4 254.2 278.1 254.0 280.0 C253.8 281.9 253.3 286.2 253.0 288.0 C252.7 289.8 251.6 293.5 251.0 295.0 C250.4 296.5 248.6 299.9 248.0 301.0 C247.4 302.1 246.9 303.1 246.0 304.0 C245.1 304.9 241.4 307.9 240.0 309.0 C238.6 310.1 235.4 311.9 234.0 313.0 C232.6 314.1 229.2 316.7 228.0 318.0 C226.8 319.3 224.8 322.6 224.0 324.0 C223.2 325.4 221.7 328.6 221.0 330.0 C220.3 331.4 218.9 334.8 218.0 336.0 C217.1 337.2 214.3 339.2 213.0 340.0 C211.7 340.8 208.3 342.5 207.0 343.0 C205.7 343.5 202.8 344.4 202.0 344.0 C201.2 343.6 200.0 341.2 200.0 340.0 C200.0 338.8 201.7 335.4 202.0 334.0 C202.3 332.6 203.2 328.9 203.0 328.0 C202.8 327.1 200.9 326.6 200.0 326.0 C199.1 325.4 196.1 323.8 195.0 323.0 C193.9 322.2 191.6 319.8 191.0 319.0 C190.4 318.2 190.5 316.7 190.0 316.0 C189.5 315.3 188.1 313.7 187.0 313.0 C185.9 312.3 181.6 310.6 181.0 310.0 C180.4 309.4 180.9 308.0 182.0 308.0 C183.1 308.0 188.1 310.0 190.0 310.0 C191.9 310.0 196.4 308.7 198.0 308.0 C199.6 307.3 202.7 305.2 204.0 304.0 C205.3 302.8 208.1 299.4 209.0 298.0 C209.9 296.6 211.2 293.4 212.0 292.0 C212.8 290.6 214.8 287.1 216.0 286.0 C217.2 284.9 220.6 283.2 222.0 283.0 C223.4 282.8 226.7 284.1 228.0 284.0 C229.3 283.9 231.9 282.8 233.0 282.0 C234.1 281.2 236.2 278.4 237.0 277.0 C237.8 275.6 239.5 271.1 240.0 270.0 C240.5 268.9 241.3 268.8 241.7 268.0 C242.0 267.2 243.2 263.2 243.0 263.0 C242.8 262.8 240.7 265.4 240.0 266.0 C239.3 266.6 237.9 267.9 236.7 268.0 C235.5 268.1 231.5 267.3 230.0 266.7 C228.5 266.1 225.1 264.0 224.0 263.0 C222.9 262.0 221.2 259.2 221.0 258.0 C220.8 256.8 222.0 253.8 222.5 252.5 C223.0 251.2 224.5 248.0 225.0 246.7 C225.5 245.4 227.3 242.0 226.7 241.0 C226.1 240.0 220.9 238.9 220.0 238.0 C219.1 237.1 218.7 234.3 219.0 233.0 C219.3 231.7 222.0 228.1 223.0 226.7 C224.0 225.3 227.1 222.2 227.5 221.0 C227.9 219.8 226.4 216.9 226.7 216.0 C227.0 215.1 228.9 213.7 230.0 213.0 C231.1 212.3 235.1 211.2 236.0 210.0 C236.9 208.8 237.0 204.5 237.5 203.0 C238.0 201.5 239.5 198.2 240.0 197.5 C240.5 196.8 241.5 197.0 242.0 197.0 Z" fill="#14a0ff"/>
<path d="M130.0 350.0 C130.7 349.2 133.8 346.9 135.0 346.0 C136.2 345.1 138.8 342.9 140.0 342.0 C141.2 341.1 143.8 337.9 145.0 338.0 C146.2 338.1 148.7 342.2 150.0 343.0 C151.3 343.8 154.9 344.4 156.0 345.0 C157.1 345.6 159.0 347.3 159.0 348.0 C159.0 348.7 157.2 350.5 156.0 351.0 C154.8 351.5 149.9 351.5 149.0 352.0 C148.1 352.5 149.1 354.5 148.0 355.0 C146.9 355.5 141.8 356.0 140.0 356.0 C138.2 356.0 134.3 355.4 133.0 355.0 C131.7 354.6 129.3 353.6 129.0 353.0 C128.7 352.4 129.3 350.8 130.0 350.0 Z" fill="#14a0ff"/>
<path d="M293.0 306.0 C293.7 305.3 298.0 303.4 300.0 303.0 C302.0 302.6 308.5 302.8 310.0 303.0 C311.5 303.2 313.0 304.4 313.0 305.0 C313.0 305.6 311.5 307.4 310.0 308.0 C308.5 308.6 301.9 309.9 300.0 310.0 C298.1 310.1 294.8 309.5 294.0 309.0 C293.2 308.5 292.3 306.7 293.0 306.0 Z" fill="#14a0ff"/>
<path d="M283.0 309.6 C283.3 309.2 285.0 308.6 285.6 308.6 C286.2 308.6 288.0 309.6 288.0 310.0 C288.0 310.4 286.6 311.8 286.0 312.0 C285.4 312.2 283.4 311.9 283.0 311.6 C282.6 311.3 282.7 310.0 283.0 309.6 Z" fill="#14a0ff"/>
<path d="M236.7 335.8 C237.7 334.7 240.3 332.5 241.7 331.7 C243.1 330.9 246.7 329.5 248.3 329.2 C249.9 328.9 253.9 328.9 255.0 329.2 C256.1 329.5 257.3 330.8 257.5 331.7 C257.7 332.6 257.2 335.5 256.7 336.7 C256.2 337.9 253.7 340.3 253.3 341.7 C252.9 343.1 252.9 347.0 253.3 348.3 C253.7 349.6 255.6 351.6 256.7 352.5 C257.8 353.4 261.3 355.1 262.5 355.8 C263.7 356.5 266.0 357.6 266.7 358.3 C267.4 359.0 268.3 360.8 268.3 361.7 C268.3 362.6 267.5 364.9 266.7 365.8 C265.9 366.7 262.9 368.3 261.7 369.2 C260.5 370.1 258.1 372.4 256.7 373.3 C255.3 374.2 251.4 376.0 250.0 376.7 C248.6 377.4 246.2 378.7 245.0 379.2 C243.8 379.7 241.2 380.7 240.0 380.8 C238.8 380.9 236.1 380.4 235.0 380.0 C233.9 379.6 232.0 378.1 230.8 377.5 C229.6 376.9 226.1 375.6 225.0 375.0 C223.9 374.4 222.2 373.4 221.7 372.5 C221.2 371.6 220.8 368.7 220.8 367.5 C220.8 366.3 221.2 363.7 221.7 362.5 C222.2 361.3 224.3 358.7 225.0 357.5 C225.7 356.3 226.8 353.8 227.5 352.5 C228.2 351.2 230.1 348.1 230.8 346.7 C231.5 345.3 232.6 342.1 233.3 340.8 C234.0 339.5 235.7 336.9 236.7 335.8 Z" fill="#14a0ff"/>
<path d="M206.5 282.0 C206.7 281.5 208.3 279.9 209.0 279.5 C209.7 279.1 212.0 278.4 212.5 278.5 C213.0 278.6 213.3 279.5 213.0 280.0 C212.7 280.5 210.6 282.1 210.0 282.5 C209.4 282.9 207.9 283.6 207.5 283.5 C207.1 283.4 206.3 282.5 206.5 282.0 Z" fill="#14a0ff"/>
<path d="M195.0 264.2 C195.3 263.8 196.8 263.1 197.5 263.3 C198.2 263.5 200.5 265.1 200.8 265.8 C201.1 266.5 200.5 268.8 200.0 269.2 C199.5 269.6 197.3 269.5 196.7 269.2 C196.1 268.9 194.9 267.3 194.7 266.7 C194.5 266.1 194.7 264.6 195.0 264.2 Z" fill="#3050e6"/>
<path d="M230.8 254.2 C231.2 253.4 233.9 252.1 235.0 252.0 C236.1 251.9 239.2 252.7 240.0 253.3 C240.8 253.9 242.0 256.6 242.0 257.5 C242.0 258.4 240.8 260.3 240.0 260.8 C239.2 261.3 236.0 261.9 235.0 261.7 C234.0 261.5 231.8 260.1 231.3 259.2 C230.8 258.3 230.4 255.0 230.8 254.2 Z" fill="#3050e6"/>
<path d="M245.0 270.8 C245.1 270.0 246.1 270.0 246.3 270.8 C246.5 271.6 246.8 276.7 246.7 277.5 C246.6 278.3 245.5 278.3 245.3 277.5 C245.1 276.7 244.9 271.6 245.0 270.8 Z" fill="#3050e6"/>
<path d="M227.0 300.0 C227.5 299.3 229.9 297.7 231.0 297.0 C232.1 296.3 234.9 294.9 236.0 294.0 C237.1 293.1 239.2 289.6 240.0 289.0 C240.8 288.4 242.5 288.4 243.0 289.0 C243.5 289.6 244.1 292.7 244.0 294.0 C243.9 295.3 242.6 298.9 242.0 300.0 C241.4 301.1 239.9 302.3 239.0 303.0 C238.1 303.7 235.2 305.6 234.0 306.0 C232.8 306.4 229.8 306.4 229.0 306.0 C228.2 305.6 227.2 303.7 227.0 303.0 C226.8 302.3 226.5 300.7 227.0 300.0 Z" fill="#3050e6"/>
<path d="M204.0 310.0 C204.3 309.2 206.1 306.7 207.0 306.0 C207.9 305.3 210.9 304.3 212.0 304.4 C213.1 304.5 215.4 306.2 216.0 307.0 C216.6 307.8 217.3 310.2 217.0 311.0 C216.7 311.8 214.2 313.2 213.0 313.6 C211.8 314.0 208.0 314.5 207.0 314.4 C206.0 314.3 204.8 313.5 204.4 313.0 C204.1 312.5 203.7 310.8 204.0 310.0 Z" fill="#3050e6"/>
<path d="M238.0 369.2 C238.3 368.8 240.1 367.9 240.8 367.5 C241.5 367.1 243.4 366.4 244.2 365.8 C245.0 365.2 246.8 362.8 247.5 362.5 C248.2 362.2 249.9 362.9 250.0 363.3 C250.1 363.7 248.8 365.0 248.3 365.8 C247.8 366.6 246.5 369.1 245.8 370.0 C245.1 370.9 243.3 372.9 242.5 373.3 C241.7 373.7 239.7 373.5 239.2 373.3 C238.7 373.1 238.1 371.8 238.0 371.3 C237.9 370.8 237.7 369.6 238.0 369.2 Z" fill="#3050e6"/>
</g>
<g clip-path="url(#frame)" fill="none" stroke="#747474" stroke-width="0.9">
<path d="M258 140 L266 144 L280 148 L288 152.5 L290 155.8 L298.3 166.7 L306.7 173.3 L315 181.7 L323.3 190 L331.7 198.3 L340 206.7 L345 213.3 L348.3 221.7 L350 229.2 L343.3 232.5 L337.5 236.3 L346 243 L354 252 L360 258 L366 264 L374 271 L388 273 L400 268 L400 268 L414 261.6 L430 264 L444 261.6 L460 252.6 L476 252.4 L481 251"/>
<path d="M333.7 140 L335.8 148.3 L338.3 158.3 L341.7 170 L345.8 177.5 L345 183.3 L343.3 190.8 L347.5 198.3 L352.5 205 L361.7 207.5 L373.3 205.8 L390 203.3 L392 202 L405 198 L412 189 L420 188.6 L430 190 L440 191 L450 189 L455.6 186 L478 172.4 L481.4 172"/>
<path d="M481 420 L468 445 L441.7 470.7"/>
</g>
<g clip-path="url(#eth)"><g clip-path="url(#ag0)" fill="none" stroke="#000" stroke-width="1.1" stroke-linejoin="round">
<path d="M183.3 158.7 L186.7 165 L191.7 171.7 L194.2 177.5 L195.3 183 L200 185 L205 184.2 L210 183.7"/>
<path d="M159.2 175.8 L160.8 180 L162.5 185 L165.8 187.5 L169.2 186.3 L173.3 188.3 L179.2 190 L183.3 189.7 L188.3 187.5 L193.3 185 L195.3 183"/>
<path d="M126.7 230.8 L131.7 232.5 L138.3 230.8 L144.2 227.5 L147.5 226.7 L151.7 225.8 L156.7 225.3 L160 226.7 L163.3 230 L165 234.2 L168.3 235.8 L167.5 240"/>
<path d="M145.8 227.5 L149.2 232.5 L153.3 235.8 L155 240"/>
<path d="M168.3 235.8 L171.7 231.7 L175 226.7 L176.7 221.7 L180 219.2 L184.2 218.3 L186.7 220 L188.3 223.3 L191.7 221.7 L193.3 218.3 L196.7 217.5 L200.8 219.2 L205 216.7 L210 214.2"/>
<path d="M188.3 223.3 L187.5 230 L186.7 236.7 L185.8 240"/>
<path d="M158.3 235.8 L161.7 235 L165 234.2"/>
</g></g>
<g clip-path="url(#eth)"><g clip-path="url(#ag1)" fill="none" stroke="#000" stroke-width="1.1" stroke-linejoin="round">
<path d="M200 185 L205 184.2 L210 183.7 L210 183.7 L213.3 182.5 L216.7 184.2 L219.2 183.7 L221.7 189.2"/>
<path d="M214.2 158.3 L215.8 165 L215.3 173.3 L216.7 180 L218.3 183.3"/>
<path d="M221.7 189.2 L225 188.3 L229.2 187.5 L231.7 190 L230.5 194.2 L232.5 198.3 L235 200.8 L235.8 205.8 L234.2 210.8 L235.3 215.8 L235.8 219.2 L233.3 222.5 L230 220 L226.7 218.7 L220 219.2 L214.2 218.3 L208.3 215.8 L203.3 217 L200 218.3"/>
<path d="M221.7 189.2 L218.3 193.3 L214.2 195.8 L211.7 199.2 L210.8 204.2 L212.5 209.2 L213.3 214.2 L214.2 218.3 L215.8 223.3 L216.7 228.3 L218.3 233.3 L220 240"/>
<path d="M229.2 187.5 L234.2 184.2 L239.2 181.7 L241.7 180 L240 175.8 L237.5 172.5 L235 174.2 L235.8 170 L237.5 165 L235.8 160.8 L237.5 156.7 L239.2 155.3"/>
<path d="M241.7 180 L246.7 181.3 L250.8 181.7"/>
<path d="M250 158.3 L250.8 165 L251.7 171.7 L253 178.3 L250.8 181.7 L250 186.7 L251.7 193.3 L253.3 198.3 L255 202.5 L255.8 205 L253.3 206.7 L252.5 211.7 L253.3 216.7 L254.2 223.3 L253.3 230 L255 235 L254.2 240"/>
<path d="M255.8 205 L260 202.5 L266.7 200 L273.3 198.3 L274.2 203.3 L275.8 210 L276.7 215 L276.7 221.7 L275 226.7 L270 230 L265 230.8 L260 231.7 L256.7 234.2 L255 235"/>
<path d="M273.3 198.3 L280 198.3 L286.7 198.3 L287.5 203.3 L290 205.8 L296.7 205.8 L300 205.3 L298.3 205.8 L306.7 203.7 L308.3 199.2 L308.8 197.5"/>
<path d="M235.8 219.2 L241.7 218.3 L248.3 218 L253.3 217.5"/>
<path d="M240 240 L241.7 236.7 L245 235 L245.8 240"/>
</g></g>
<g clip-path="url(#eth)"><g clip-path="url(#ag2)" fill="none" stroke="#000" stroke-width="1.1" stroke-linejoin="round">
<path d="M250 223.3 L252.5 228.3 L255 234.2 L256.7 240 L259.2 245 L261.7 249.2 L262.5 253.3 L261.7 260 L260.8 266.7 L260 273.3 L259.2 280 L257.5 285 L255 290 L253.3 295 L252.5 301.7 L254.2 306.7 L255.8 313.3 L257.5 318.3"/>
<path d="M255 234.2 L261.7 231.7 L268.3 230 L274.2 228.3 L275.8 223.3 L275.8 220"/>
<path d="M261.7 249.2 L266.7 248.3 L271.7 250.8 L275 250 L279.2 249.2 L283.3 250.8 L285.8 255 L287.5 260 L290 259.2 L291.7 255.8 L303 255.8"/>
<path d="M271.7 250.8 L274.2 255.8 L271.7 257.5 L270 261.7 L269.2 268.3 L267.5 275 L265.8 281.7 L264.2 286.7 L262.5 291.7"/>
<path d="M287.5 260 L285.8 265 L285 271.7 L283.3 278.3 L281.7 284.2 L279.2 288.3 L276.7 293.3 L275 297.5 L277.5 300 L281.7 300.8 L286.7 298.3 L291.7 297 L298.3 296.7 L305 295.8 L305.8 292.5 L310 291.7 L313.3 293.3 L316.7 290 L320 289.2 L324.2 286.7 L327.5 284.2 L330 281.7 L331.7 278.3 L333.3 275"/>
<path d="M275 297.5 L270 300 L265.8 303.3 L262.5 308.3 L259.2 313.3 L256.7 318.3 L255.8 320"/>
<path d="M290.8 299.2 L290 305 L290.8 310.8 L290 315 L289.2 320"/>
<path d="M314.2 300.8 L318.3 300 L318.7 304.2 L314.2 305 L314.2 300.8"/>
<path d="M336.7 292.5 L332.5 295 L329.2 298.3 L327.5 302.5 L330 308.3 L333.3 313.3 L335.8 318.3 L336.7 320"/>
<path d="M250.8 241.7 L253.3 246.7 L254.2 253.3 L253.3 258.3 L255 263.3 L254.2 270 L255 276.7 L253.3 283.3 L251.7 290"/>
</g></g>
<g clip-path="url(#eth)"><g clip-path="url(#ag3)" fill="none" stroke="#000" stroke-width="1.1" stroke-linejoin="round">
<path d="M381.7 348.3 L384.2 355 L387.5 361.7 L391.7 368.3 L395.8 375 L398.3 380 L400 383.3"/>
<path d="M330 289.2 L333.3 292.5 L337.5 293.3 L335 295.8 L330 296.7"/>
<path d="M330 310 L333.3 314.2 L336.7 317.5 L335.8 320.8 L340 319.2 L343.3 316.7 L347.5 316.7 L348.3 320 L349.2 315.8 L351.7 311.7 L355 308.3 L358.3 310.8 L362.5 310.8 L365.8 309.2"/>
<path d="M336.7 317.5 L335.8 323.3 L333.3 328.3 L330.8 333.3 L331.7 338.3 L333.3 343.3 L338.3 345.8 L341.7 350 L340 355 L337.5 360 L335.8 364.2"/>
<path d="M330 365 L335.8 364.2 L341.7 360.8 L348.3 357.5 L355 353.3 L360.8 350 L365.8 347.5 L371.7 346.7 L381.7 348.3 L391.7 349.2 L398.3 345.8 L404.2 340.8 L408.3 335.8 L410.8 330 L411.7 327.5"/>
<path d="M348.3 357.5 L349.2 363.3 L350.8 370 L354.2 375.8 L356.7 380 L358.3 383.3"/>
</g></g>
<g clip-path="url(#eth)"><g clip-path="url(#ag4)" fill="none" stroke="#000" stroke-width="1.1" stroke-linejoin="round">
<path d="M382 350 L385 358 L392 367 L398 376 L399 386 L408 391 L417 395 L420 396"/>
<path d="M349 359 L351 368 L358 376 L364 388 L370 396 L380 399 L394 400 L411 403"/>
<path d="M360 399 L368 405 L376 411 L386 418 L394 424"/>
<path d="M300 350 L308 352 L318 360 L326 363 L335 365 L343 361 L349 359 L348.3 357.5"/>
<path d="M312 362 L315 366 L312 374 L308 378 L300 383"/>
<path d="M308 378 L316 383 L326 387 L337 391 L338 393 L333 400 L336 402 L343 403 L356 403 L360 399"/>
<path d="M300 429 L305 436 L310 443 L312 446"/>
</g></g>
<g clip-path="url(#eth)"><g clip-path="url(#ag5)" fill="none" stroke="#000" stroke-width="1.1" stroke-linejoin="round">
<path d="M120 244.2 L119.2 250 L120 256.7 L120.8 263.3 L123.3 269.2 L125.8 273.3 L128.3 277.5 L131.7 280.8 L136.7 283.3 L141.7 282.5 L146.7 280.8 L150 281.7 L152.5 280 L155.8 275.8 L157.5 271.7 L160 270 L165 268.3 L169.2 265 L170 261.7"/>
<path d="M122.5 250 L123.3 256.7 L124.2 263.3 L125.8 268.3 L129.2 273.3 L131.7 278.3 L135 281.7"/>
<path d="M157.5 240 L160 242.5 L159.2 247.5 L157.5 253.3 L155 256.7 L154.2 261.7 L155.8 266.7 L158.3 270 L160 270"/>
<path d="M160 270 L164.2 272.5 L170 272.5 L175 274.2 L178.3 275.8 L180 280 L183.3 283.3 L188.3 285.8 L190 286.7"/>
<path d="M150 281.7 L150.8 288.3 L153.3 293.3 L158.3 296.7 L160 298.3 L156.7 300.8 L153.3 301.7 L150.8 305.8 L148.3 309.2 L151.7 313.3 L156.7 317.5 L161.7 320.8 L165.8 323.3 L166.7 328.3 L168.3 333.3 L165.8 336.7 L161.7 338.3 L158.3 335 L154.2 332.5 L150 331.7 L145 333.3 L141.7 335.8 L140 340"/>
<path d="M148.3 309.2 L145 305.8 L140.8 302.5 L139.2 297.5 L135 293.3 L130 290.8 L127.5 287.5 L123.3 285.8 L120 283.3 L115 285.8 L113.3 290 L110 293.3 L105.8 295 L105 300 L104.2 305 L102.5 308.3 L101.7 310.8"/>
<path d="M102.5 308.3 L108.3 306.7 L113.3 304.2 L116.7 301.7 L119.2 303.3 L122.5 306.7 L125.8 310.8 L130 314.2 L135 318.3 L140 320 L143.3 317.5 L146.7 313.3 L148.3 309.2"/>
<path d="M130 314.2 L125 318.3 L121.7 321.7 L118.3 325 L119.2 330 L117.5 335 L117.5 340"/>
<path d="M170 272.5 L170.8 278.3 L170 285 L166.7 291.7 L165 295 L168.3 296.7 L171.7 299.2 L175 305 L176.7 310 L178.3 315 L175 318.3 L170 320 L165.8 323.3"/>
<path d="M176.7 310 L180.8 306.7 L185.8 303.3 L190 301.7"/>
<path d="M175 274.2 L180 271.7 L185 269.2 L190 266.7"/>
<path d="M169.2 240 L173.3 245 L176.7 250 L175.8 255 L178.3 258.3 L183.3 256.7 L190 254.2"/>
</g></g>
<g clip-path="url(#eth)"><g clip-path="url(#ag6)" fill="none" stroke="#000" stroke-width="1.1" stroke-linejoin="round">
<path d="M100.8 320.8 L104.2 325 L108.3 326.7 L113.3 329.2 L117.5 332.5 L118.3 338.3 L117.5 343.3 L120 347.5 L119.2 350.8 L115.8 350 L115 353.3 L116.7 357.5 L118.3 361.7 L116.7 365.8 L118.3 370 L121.7 372.5 L122.5 376.7 L123.3 381.7 L122.5 385.8"/>
<path d="M118.3 338.3 L122.5 341.7 L123.3 346.7 L125.8 350.8 L128.3 355.8 L129.2 361.7 L133.3 361.7 L136.7 359.2 L134.2 355.8 L135 350.8 L136.7 346.7 L140 343.3 L143.3 340.8 L145 338.3 L148.3 335.8 L153.3 333.3 L160 332.5"/>
<path d="M118.3 330 L120 325 L122.5 321.7 L123.3 320"/>
<path d="M139.2 365 L143.3 364.2 L145 367.5 L146.7 371.7 L148.3 376.7 L150 381.7 L146.7 384.2 L145 388.3 L145.8 393.3 L146.7 398.3 L145.8 403.3 L143.3 410 L142.5 415"/>
<path d="M150 381.7 L154.2 382.5 L156.7 380 L155.8 375.8 L158.3 372.5 L160 371.7"/>
<path d="M145 338.3 L146.7 343.3 L149.2 347.5 L153.3 350.8 L160 351.7"/>
<path d="M136.7 346.7 L138.3 353.3 L140 359.2 L139.2 365"/>
</g></g>
<g clip-path="url(#eth)"><g clip-path="url(#ag7)" fill="none" stroke="#000" stroke-width="1.1" stroke-linejoin="round">
<path d="M150 351.7 L156.7 355 L163.3 357.5 L168.3 360 L171.7 359.2 L176.7 358.3 L183.3 359.2 L185 355 L185.8 350 L185 345 L185.8 340 L188.3 336.7 L190 333.3 L190 330"/>
<path d="M168.3 360 L165 363.3 L160 366.7 L157.5 371.7 L156.7 376.7 L155.8 380 L158.3 381.7 L156.7 386.7 L160 387.5 L164.2 385 L165.8 390 L165 395 L168.3 396.7 L171.7 395 L174.2 400 L175 405 L175.8 409.2 L174.2 413.3 L171.7 416.7 L170.8 423.3 L170 430"/>
<path d="M171.7 359.2 L170 364.2 L167.5 370 L165.8 374.2 L162.5 376.7 L158.3 376.7"/>
<path d="M165.8 374.2 L171.7 375 L178.3 374.7 L183.3 373.3 L185.8 370 L185 365.8 L185.8 362.5 L183.3 359.2"/>
<path d="M185.8 370 L190 372.5 L193.3 375 L196.7 378.3 L200 379.2 L205 380 L210 381.7 L215 383.3 L220 382.5 L225 383.3 L230 385 L233.3 385.8"/>
<path d="M190 333.3 L195 336.7 L200 340 L203.3 343.3 L205 348.3 L204.2 353.3 L202.5 357.5 L204.2 362.5 L205 368.3 L203.3 374.2 L200 379.2"/>
<path d="M185 355 L190 357.5 L195 355 L200 355.8 L202.5 357.5"/>
<path d="M195 355 L198.3 350 L203.3 349.2 L205 348.3"/>
<path d="M203.3 343.3 L208.3 340 L214.2 336.7 L217.5 333.3 L218.3 330"/>
<path d="M205 348.3 L210 349.2 L215.8 346.7 L220 345.8 L223.3 348.3 L225.8 352.5 L226.7 356.7 L231.7 357.5 L238.3 360 L243.3 358.3 L246.7 355 L250 353.3"/>
<path d="M204.2 362.5 L208.3 364.2 L213.3 363.3 L218.3 364.2 L220.8 367.5 L220 372.5 L223.3 375.8 L228.3 378.3 L232.5 381.7 L233.3 385.8 L236.7 388.3 L240 395 L242.5 400 L245.8 404.2 L248.3 408.3 L250 410"/>
<path d="M210 381.7 L207.5 385.8 L205.8 390 L209.2 392.5 L208.3 396.7 L210.8 400.8 L213.3 405"/>
<path d="M213.3 383.3 L212.5 388.3 L214.2 394.2 L216.7 400 L220 405 L222.5 411.7 L226.7 416.7 L231.7 421.7 L236.7 426.7 L240 430"/>
<path d="M174.2 400 L180 398.3 L185 396.7 L190 394.2 L195 392.5 L195.8 388.3"/>
<path d="M180 398.3 L181.7 403.3 L183.3 407.5 L178.3 409.2 L175.8 409.2"/>
<path d="M185 396.7 L187.5 401.7 L191.7 404.2 L190.8 408.3 L188.3 411.7 L183.3 407.5"/>
<path d="M191.7 404.2 L198.3 403.3 L200 408.3 L198.3 413.3 L194.2 415 L190.8 408.3"/>
<path d="M195 392.5 L198.3 395.8 L203.3 398.3 L201.7 402.5 L198.3 403.3"/>
<path d="M246.7 355 L248.3 360 L246.7 363.3 L250 365"/>
</g></g>
<g clip-path="url(#eth)"><g clip-path="url(#ag8)" fill="none" stroke="#000" stroke-width="1.1" stroke-linejoin="round">
<path d="M160 270.3 L164.2 272.5 L170 272.5 L175 274.2 L178.3 275.8"/>
<path d="M168.3 240 L170.8 246.7 L175.8 251.7 L176.7 256.7 L172.5 261.7 L168.3 265 L163.3 268.3 L160 270"/>
<path d="M176.7 256.7 L181.7 255 L187.5 252.5 L190.8 253.3 L193.3 258.3 L192.5 263.3 L187.5 266.7 L183.3 270 L179.2 271.7 L178.3 276.7 L182.5 280.8 L187.5 284.2 L191.7 286.7 L195.8 285 L200 282.5 L205 280 L210 277.5 L213.3 274.2 L215 268.3 L215.8 260 L215 252.5 L210 250.8 L203.3 250 L196.7 249.2 L193.3 245.8 L190.8 241.7 L189.2 240"/>
<path d="M215 252.5 L217.5 247.5 L220.8 243.3 L221.7 240"/>
<path d="M215 272.5 L221.7 272.5 L230 272.5 L235 275.8 L237.5 272.5 L240.8 267.5 L245 263.3 L248.3 260 L250 257.5 L255 256.7 L258.3 253.3 L260 250"/>
<path d="M224.2 272.5 L225 277.5 L220.8 281.7 L223.3 285 L226.7 288.3 L231.7 290 L237.5 290 L240 293.3 L241.7 297.5 L238.3 300.8 L235.8 305 L233.3 307.5 L230 310.8 L225.8 312.5 L222.5 309.2 L220.8 306.7 L217.5 305.8 L215.8 301.7 L216.7 297.5 L211.7 294.2 L208.3 293.3 L204.2 290 L200.8 286.7 L200 282.5"/>
<path d="M191.7 286.7 L190.8 293.3 L190 299.2 L185 303.3 L180 305.8 L175.8 305.8 L172.5 303.3"/>
<path d="M175.8 305.8 L178.3 311.7 L180.8 316.7 L185 319.2 L188.3 321.7 L189.2 326.7 L187.5 331.7 L186.7 340"/>
<path d="M189.2 321.7 L194.2 318.3 L199.2 315.8 L204.2 315 L210 313.3 L215 311.7 L219.2 310 L220.8 306.7"/>
<path d="M220.8 313.3 L225 313.3 L225.8 312.5"/>
<path d="M219.2 310 L220.8 316.7 L220 323.3 L217.5 328.3 L213.3 330 L210 326.7 L205 323.3 L200 321.7 L195 323.3 L189.2 326.7"/>
<path d="M217.5 328.3 L218.3 333.3 L216.7 338.3 L217.5 340"/>
<path d="M235.8 305 L236.7 311.7 L238.3 316.7 L243.3 317.5 L245 313.3 L248.3 308.3 L250.8 303.3 L253.3 298.3 L255 291.7 L255.8 283.3 L255 276.7 L255.8 270 L255 263.3 L255.8 256.7"/>
<path d="M238.3 316.7 L233.3 323.3 L230 328.3 L228.3 333.3 L226.7 340"/>
<path d="M160 288.3 L165 290 L169.2 290 L166.7 295 L164.2 297.5 L160 298.3"/>
<path d="M253.3 298.3 L256.7 303.3 L258.3 310 L260 313.3"/>
<path d="M160 321.7 L165 323.3 L168.3 330 L166.7 335 L163.3 338.3 L160 339.2"/>
</g></g>
<g clip-path="url(#eth)"><g clip-path="url(#ag9)" fill="none" stroke="#000" stroke-width="1.1" stroke-linejoin="round">
<path d="M230 377.5 L232.5 382.5 L235.8 387.5 L239.2 393.3 L242.5 399.2 L245.8 403.3 L250 407.5 L255 410 L256.7 410.8 L263.3 411.7 L270.8 410 L275.8 406.7 L280.8 403.3 L285 402.5"/>
<path d="M256.7 410.8 L254.2 416.7 L251.7 423.3 L249.2 430 L246.7 436.7 L244.2 443.3 L241.7 450 L238.3 455.8 L236.7 460"/>
<path d="M230 418.3 L235 423.3 L240 427.5 L245 430 L248.3 431.7"/>
<path d="M285 402.5 L281.7 396.7 L280 390 L280 383.3 L282.5 378.3 L286.7 375 L291.7 376.7 L296.7 380 L301.7 383.3 L305 379.2 L308.3 378.3 L311.7 373.3 L314.2 368.3 L316.7 363.3 L318.3 360"/>
<path d="M285 402.5 L289.2 408.3 L292.5 415 L296.7 421.7 L300 428.3 L304.2 434.2 L308.3 439.2 L311.7 443.3 L313.3 445"/>
<path d="M308.3 378.3 L313.3 381.7 L320 385 L326.7 386.7 L330 387.5"/>
</g></g>
<g clip-path="url(#eth)"><g clip-path="url(#ag10)" fill="none" stroke="#000" stroke-width="1.1" stroke-linejoin="round">
<path d="M260 322 L263 321 L265 326 L267 334 L269 340 L276 341 L282 339 L288 337 L293 334 L297 335 L299 340 L300 346 L303 350 L307 354 L312 357 L318 359 L326 361 L335 364 L340 354 L342 349 L337 346 L333 344 L331 338 L329 333 L326 329 L322 324 L319 321 L315 323 L311 328 L309 334 L308.6 342 L309 350 L310 355"/>
<path d="M291 300 L290 308 L289.6 316 L292 323 L293 329 L297 335"/>
<path d="M335 364 L340 361 L348 358 L356 353 L364 349"/>
<path d="M318 359 L317 364 L315 370 L313 376 L314 380 L322 386 L330 390 L337 392 L336 398 L335 400"/>
<path d="M280 400 L280 392 L281 384 L283 378 L286 374 L291 377 L296 380 L301 383 L305 380 L308 377 L313 376"/>
<path d="M329 333 L334 325 L337 321 L339 319 L344 318 L348 319 L349 316 L352 312 L354 309 L358 310 L362 312 L366 310"/>
<path d="M329 300 L330 295 L336 293 L338 294 L335 297 L329 300 L328 306 L331 312 L335 317 L337 321"/>
</g></g>
<g clip-path="url(#eth)"><g clip-path="url(#ag11)" fill="none" stroke="#000" stroke-width="1.1" stroke-linejoin="round">
<path d="M190 320.7 L194 317.3 L199.3 316 L204.7 314.7 L210 312.7 L215.3 311.3 L220.7 309.3 L222.7 310 L222.7 314.7 L222 320 L221.3 325.3 L218.7 326.7 L215.3 326 L212 328.7 L209.3 331.3 L206 329.3 L203.3 328 L200 327.3 L196 328 L192.7 328.7 L190 328"/>
<path d="M215.3 299.3 L216.7 304 L220 307.3 L221.3 309.3 L223.3 308.7 L225.3 310 L225.7 312.7 L224 314 L222.7 314.7"/>
<path d="M225.3 310 L230 309.3 L234 308 L236 306.7 L235.3 302.7 L236.7 299.3"/>
<path d="M236 306.7 L236 312 L236.7 316 L240 317.3 L243.3 316.7 L246 315.3 L248.7 313.3 L250.7 309.3 L252 305.3 L252.7 301.3 L252.7 299.3"/>
<path d="M243.3 316.7 L246 318.7 L251.3 319.3 L256.7 318.7 L258.7 316.7 L258 312.7 L256 310 L254 308 L252.7 305.3"/>
<path d="M258.7 316.7 L262 312 L264.7 308 L267.3 303.3 L270.7 299.3"/>
<path d="M256.7 318.7 L259.3 322 L262.7 324 L265.3 326.7 L266 330.7 L266.7 334.7 L268 338.7 L270.7 341.6"/>
<path d="M221.3 325.3 L220 329.3 L218.7 332.7 L218 336 L216.7 340 L215.3 344 L213.3 346 L211.3 348.7 L207.3 350.7 L204 352.7 L201.3 354.7 L198 356 L194 357.3 L189.3 359.5"/>
<path d="M251.3 319.3 L250 321.3 L246.7 323.3 L243.3 325.3 L240 327.3 L236 328.7 L234 330.7 L229.3 332 L228 336.7 L224 340 L220.7 343.3 L222.7 346 L225.3 347.3 L226 351.3 L226.7 355.3 L228.7 357.3 L232.7 358 L236.7 359.3 L240.7 362 L243.3 357.3 L246 354.7 L251.3 354 L256.7 353.3 L262 352 L266 350 L270.7 347.7"/>
<path d="M246.7 354.7 L247.3 358.7 L248.7 362.7 L249.3 366.7 L248.7 370.7 L245.3 373.3 L242.7 376.7 L240 380.7"/>
<path d="M226.7 355.3 L223.3 358.7 L222 362.7 L220 368 L220 372.7 L225.3 375.3 L230 377.3 L235.3 378.7 L240 380.7"/>
<path d="M189.3 344.3 L194 342.7 L198 346 L201.3 344.7 L204.7 342.7 L207.3 340 L210 337.3 L212 334.7 L213.3 332 L215.3 330 L218.7 332.7"/>
<path d="M198 346 L200 350 L202.7 352 L204 352.7"/>
<path d="M189.3 352.7 L194 353.3 L198 351.3 L200 350"/>
<path d="M204 352.7 L203.3 357.3 L204 361.3 L203.3 365.3 L204.7 369.3 L203.3 373.3 L201.3 377.3 L199.3 380.7"/>
<path d="M204 361.3 L208.7 362 L213.3 362.7 L216.7 364 L220 368"/>
<path d="M189.3 359.3 L194 360 L199.3 359.3 L203.3 357.3"/>
<path d="M211.3 348.7 L215.3 349.3 L218.7 348 L222 346.7 L222.7 346"/>
</g></g>
<g clip-path="url(#eth)"><g clip-path="url(#ag12)" fill="none" stroke="#000" stroke-width="1.1" stroke-linejoin="round">
<path d="M210 199 L211 206 L213 212 L211 215 L206 218 L200 220 L195 221 L192 219 L190 222 L188 227 L187 232 L188 237 L190 242 L194 247 L200 250 L207 251 L213 251.6 L216 249 L219 245 L221 241 L220 237 L218 232 L216 228 L215 223 L214 218 L213 212"/>
<path d="M214 218 L222 219 L228 220 L232 222 L235 219 L240 218.4 L246 218 L252 217.6"/>
<path d="M232 222 L234 216 L235 210 L234 205 L237 202 L236 199"/>
<path d="M252 199 L253 206 L252 212 L252.4 217.6 L253 224 L254 230 L255 235 L256 240 L258 245 L259 250 L258 255 L259 260 L260 266 L261 272 L260 281"/>
<path d="M221 241 L226 243 L232 241 L238 239 L242 237 L245 236 L246 240 L248 245 L251 250 L253 254 L254 258 L250 259 L248 262 L244 264 L241 268 L239 272 L236 276 L234 277 L233 274 L226 273 L220 273 L215 272"/>
<path d="M213 251.6 L214 258 L215 264 L215 272 L213 276 L211 281"/>
<path d="M159 223 L163 227 L166 232 L169 236 L164 240 L159 243"/>
<path d="M192 219 L187 219 L182 221 L177 224 L174 226 L172 230 L169 236 L171 242 L174 247 L176 252 L177 258 L175 262 L170 265 L165 268 L159 270.4"/>
<path d="M177 258 L182 255 L188 253 L194 252 L196 255 L195 260 L192 264 L188 267 L183 269 L179 272 L177 276 L178 281"/>
<path d="M258 231 L264 230 L270 230.4 L275 229.6 L276 220 L275 210 L274 199"/>
<path d="M256 240 L260 243 L263 248 L265 254 L268 258 L269 264 L267 272 L265 281"/>
<path d="M268 258 L272 254 L274 251"/>
<path d="M224 273 L225 277 L224 281"/>
</g></g>
<g clip-path="url(#eth)"><g clip-path="url(#ag13)" fill="none" stroke="#000" stroke-width="1.1" stroke-linejoin="round">
<path d="M119.3 303.3 L122.7 306.7 L126 310 L129.3 313.3 L130.7 316.7 L134.7 318.7 L139.3 320 L143.3 317.3 L146.7 313.3 L148.7 310.7 L148 307.3 L145.3 304 L142.7 301.3 L140 299.3"/>
<path d="M148.7 310.7 L152 312 L154 314.7 L156.7 318 L160 321.3 L164 324 L166 325.3 L166.7 329.3 L167.3 334.7 L164.7 337.3 L160.7 338 L158 335.3 L155.3 332 L151.3 332 L146.7 333.3 L142.7 335.3 L140 337.3 L139.3 340 L141.3 338.7 L143.3 340 L144.7 342.7 L146 345.3 L147.3 348.7 L150 350.7 L154 352.7 L158 354 L162.7 356 L166.7 358 L170 358.7 L173.3 359.3 L178.7 358.7 L182.7 357.3 L184 356.7"/>
<path d="M166 325.3 L169.3 322.7 L172.7 320.7 L176 318.7 L178.7 317.3 L177.3 314 L175.3 311.3 L174.7 307.3 L176 304.7 L179.3 305.3 L182.7 306 L186.7 304 L190 301.3 L192 299.3"/>
<path d="M178.7 317.3 L180.7 321.3 L183.3 324.7 L186 327.3 L187.3 330 L189.3 333.3 L190 337.3 L188 338.7 L186 340 L185.3 344 L186 348 L185.3 352 L184 356.7 L186 359.3 L189.3 360 L193.3 359.3 L197.3 361.3 L200.7 360.7"/>
<path d="M187.3 330 L188.7 326.7 L190.7 322.7 L192.7 320 L196 318.7 L200.7 317.3"/>
<path d="M192.7 320 L194.7 323.3 L197.3 326.7 L200.7 328.8"/>
<path d="M189.3 333.3 L192.7 335.3 L196 338 L198.7 341.3 L200.7 342.9"/>
<path d="M188 338.7 L189.3 342.7 L189.3 348 L187.3 350.7 L186 348"/>
<path d="M189.3 348 L192.7 350.7 L196.7 353.3 L200.7 354"/>
<path d="M193.3 359.3 L194.7 356 L197.3 354 L200.7 352.7"/>
<path d="M139.3 340 L137.3 342.7 L135.3 346 L134 350.7 L132.7 355.3 L133.3 358.7 L136 361.3 L138.7 364 L142 365.3 L145.3 364 L147.3 366.7 L148 372 L147.3 376.7 L148 380.7"/>
<path d="M137.3 342.7 L133.3 342 L130 343.3 L126.7 346 L124 349.3 L125.3 353.3 L128 356 L129.3 360 L130.7 362 L133.3 358.7"/>
<path d="M170 358.7 L167.3 361.3 L164 363.3 L161.3 365.3 L159.3 368 L158.7 372.7 L156.7 376 L156 380.7"/>
<path d="M170 358.7 L169.3 362.7 L168 366.7 L166.7 370.7 L165.3 374.7 L164.7 378 L164 380.7"/>
<path d="M184 356.7 L185.3 361.3 L186.7 366 L184.7 370.7 L182.7 373.3 L178.7 374.7 L174.7 376.7 L170.7 377.3 L166.7 378 L164.7 378"/>
<path d="M186.7 366 L189.3 364 L192.7 362.7 L197.3 361.3"/>
<path d="M119.3 323.3 L122 326.7 L120.7 330.7 L122 334.7 L120.7 338.7 L122 342.7 L121.3 346.7 L123.3 350.7 L124 354.7 L122.7 357.3 L125.3 360 L128 362.7 L129.3 365.3"/>
<path d="M182.7 373.3 L185.3 376 L189.3 376.7 L194.7 377.3 L200.7 376.7"/>
</g></g>
<g clip-path="url(#eth)"><g clip-path="url(#ag14)" fill="none" stroke="#000" stroke-width="1.1" stroke-linejoin="round">
<path d="M170.8 423 L170 430 L166 433 L165 438"/>
</g></g>
<g clip-path="url(#eth)"><g clip-path="url(#ag15)" fill="none" stroke="#000" stroke-width="1.1" stroke-linejoin="round">
<path d="M96.5 318 L98.3 320 L100.3 322 L101 326 L97.7 328 L93.7 328.7 L92.3 332 L88.3 333.3 L83.7 334 L79 333.3 L77 331.3 L76.3 334.7 L77.7 338 L75.7 341.3 L76.3 344.5"/>
</g></g>
<g clip-path="url(#eth)" fill="none" stroke="#fff" transform="translate(0.6,0)"><path d="M111 376 L106.3 372.7 L103 369.3 L99 366.7 L95 363.3 L91.7 359.3 L90.3 356 L88.3 352.7 L85 350 L81 347.3 L77 345.3 L72.3 346 L67.7 344 L64.6 342 L64.3 339.3 L66.3 336.7 L69 333.3 L68.3 328.7 L70.3 326.7 L75 326 L81 326.7 L85.7 328 L88.3 326 L92.3 324 L95 322 L96.3 320 L95.7 313.3 L95 306.7 L94.3 300 L94 296 L97 285 L99 276 L100 268 L105 261 L108 258 L114 261 L119 258 L119 250 L120 234 L126 229 L132 220 L138 209 L147 206 L153 197 L154 188 L158 181 L160 170 L161 163 L167 161 L177 160 L179 158 L184 159 L193 155 L196 148 L200 147 L204 150 L209 153 L214 158 L220 157 L228 155 L231 153 L234 155 L235 158 L240 155 L243 151 L247 154 L250 159 L258 157 L266 158 L272 162 L280 169 L288 177 L296 185 L302 191 L308 198 L312 204 L318 211 L321 214 L314 226 L306 237 L304 248 L303 256 L316 255 L328 253 L334 254 L338 255 L334 262 L331 268 L333 274 L337 280 L344 288 L352 296 L360 304 L366 310 L370 312 L390 319 L412 327 L430 333 L448 339 L475 338.4 L468 347 L456 360 L444 372 L432 384 L420 395 L412 404 L402 415 L394 424 L380 423 L366 423.6 L356 426 L346 429 L340 432 L337 438 L330 442 L320 444 L312 446 L308 449 L304 449 L294 448 L287 449 L282 445 L277 442 L268 445.6 L258 449 L252 452 L247 460 L243 466 L232 464 L220 460 L208 459.6 L204 459.6 L200 457 L190 451 L180 444 L175.3 438.7 L170.7 436.4 L163.3 436.4 L154 436.4 L146.7 436 L142.7 431.3 L140.7 426 L141.3 420.7 L142 414 L138.7 410.7 L134 410.7 L128.7 412 L126.7 410 L124.7 406 L121.3 399.3 L118.7 391.3 L118 383.3 L115 380 L113.7 378.7 Z" stroke-width="2.0"/><path d="M111 376 L106.3 372.7 L103 369.3 L99 366.7 L95 363.3 L91.7 359.3 L90.3 356 L88.3 352.7 L85 350 L81 347.3 L77 345.3 L72.3 346 L67.7 344 L64.6 342 L64.3 339.3 L66.3 336.7 L69 333.3 L68.3 328.7 L70.3 326.7 L75 326 L81 326.7 L85.7 328 L88.3 326 L92.3 324 L95 322 L96.3 320 L95.7 313.3 L95 306.7 L94.3 300 L94 296 L97 285 L99 276 L100 268 L105 261 L108 258 L114 261 L119 258 L119 250 L120 234 L126 229 L132 220 L138 209 L147 206 L153 197 L154 188 L158 181 L160 170 L161 163 L167 161 L177 160 L179 158 L184 159 L193 155 L196 148 L200 147 L204 150 L209 153 L214 158 L220 157 L228 155 L231 153 L234 155 L235 158 L240 155 L243 151 L247 154 L250 159 L258 157 L266 158 L272 162 L280 169 L288 177 L296 185 L302 191 L308 198 L312 204 L318 211 L321 214 L314 226 L306 237 L304 248 L303 256 L316 255 L328 253 L334 254 L338 255 L334 262 L331 268 L333 274 L337 280 L344 288 L352 296 L360 304 L366 310 L370 312 L390 319 L412 327 L430 333 L448 339 L475 338.4 L468 347 L456 360 L444 372 L432 384 L420 395 L412 404 L402 415 L394 424 L380 423 L366 423.6 L356 426 L346 429 L340 432 L337 438 L330 442 L320 444 L312 446 L308 449 L304 449 L294 448 L287 449 L282 445 L277 442 L268 445.6 L258 449 L252 452 L247 460 L243 466 L232 464 L220 460 L208 459.6 L204 459.6 L200 457 L190 451 L180 444 L175.3 438.7 L170.7 436.4 L163.3 436.4 L154 436.4 L146.7 436 L142.7 431.3 L140.7 426 L141.3 420.7 L142 414 L138.7 410.7 L134 410.7 L128.7 412 L126.7 410 L124.7 406 L121.3 399.3 L118.7 391.3 L118 383.3 L115 380 L113.7 378.7 Z" stroke-width="4.2" stroke-dasharray="1.4 1.4"/></g>
<g clip-path="url(#eth)" fill="none" stroke="#fff"><path d="M120.8 236.7 L122.5 230.8 L126.7 227.5 L131.7 218.3 L137.5 208.3 L145.8 205.8 L150.8 196.7 L153.3 188.3 L157.5 180 L159 172.5 L160 166.7 L161.7 162.5" stroke-width="3.6"/><path d="M120.8 236.7 L122.5 230.8 L126.7 227.5 L131.7 218.3 L137.5 208.3 L145.8 205.8 L150.8 196.7 L153.3 188.3 L157.5 180 L159 172.5 L160 166.7 L161.7 162.5" stroke-width="6.6" stroke-dasharray="2.6 2.6"/></g>
<g clip-path="url(#eth)" fill="none" stroke="#fff"><path d="M119 250 L119 258 L114 261 L108 258 L105 261 L100 268 L99 276 L97 285 L94 296 L94.3 300 L95 306.7 L95.7 313.3 L96.3 320" stroke-width="3.6"/><path d="M119 250 L119 258 L114 261 L108 258 L105 261 L100 268 L99 276 L97 285 L94 296 L94.3 300 L95 306.7 L95.7 313.3 L96.3 320" stroke-width="6.6" stroke-dasharray="2.6 2.6"/></g>
<g clip-path="url(#eth)" fill="none" stroke="#fff"><path d="M64.6 342 L67.7 344 L72.3 346 L77 345.3 L81 347.3 L85 350 L88.3 352.7 L90.3 356 L91.7 359.3 L95 363.3 L99 366.7 L103 369.3 L106.3 372.7 L111 376 L115 380 L118 383.3 L118.7 391.3 L121.3 399.3 L124.7 406 L126.7 410" stroke-width="3.6"/><path d="M64.6 342 L67.7 344 L72.3 346 L77 345.3 L81 347.3 L85 350 L88.3 352.7 L90.3 356 L91.7 359.3 L95 363.3 L99 366.7 L103 369.3 L106.3 372.7 L111 376 L115 380 L118 383.3 L118.7 391.3 L121.3 399.3 L124.7 406 L126.7 410" stroke-width="6.6" stroke-dasharray="2.6 2.6"/></g>
<g clip-path="url(#eth)" fill="none" stroke="#fff"><path d="M142 414 L141.3 420.7 L140.7 426 L142.7 431.3 L146.7 436" stroke-width="3.6"/><path d="M142 414 L141.3 420.7 L140.7 426 L142.7 431.3 L146.7 436" stroke-width="6.6" stroke-dasharray="2.6 2.6"/></g>
<g clip-path="url(#eth)" fill="none" stroke="#fff"><path d="M266 158 L272 162 L280 169 L288 177 L296 185 L302 191 L308 198 L312 204 L318 211 L321 214 L314 226 L306 237 L304 248" stroke-width="2.8"/><path d="M266 158 L272 162 L280 169 L288 177 L296 185 L302 191 L308 198 L312 204 L318 211 L321 214 L314 226 L306 237 L304 248" stroke-width="5.4" stroke-dasharray="1.4 1.4"/></g>
<g clip-path="url(#eth)" fill="none" stroke="#fff"><path d="M337 280 L344 288 L352 296 L360 304 L366 310 L370 312" stroke-width="2.8"/><path d="M337 280 L344 288 L352 296 L360 304 L366 310 L370 312" stroke-width="5.4" stroke-dasharray="1.4 1.4"/></g>
<g clip-path="url(#eth)" fill="none" stroke="#fff"><path d="M475 338.4 L468 347 L456 360 L444 372 L432 384 L420 395 L412 404 L402 415 L394 424" stroke-width="2.8"/><path d="M475 338.4 L468 347 L456 360 L444 372 L432 384 L420 395 L412 404 L402 415 L394 424" stroke-width="5.4" stroke-dasharray="1.4 1.4"/></g>
<g clip-path="url(#eth)" fill="none" stroke="#fff"><path d="M154 188 L158 181 L160 170 L161 163 L167 161" stroke-width="2.8"/><path d="M154 188 L158 181 L160 170 L161 163 L167 161" stroke-width="5.4" stroke-dasharray="1.4 1.4"/></g>
<path d="M111 376 L106.3 372.7 L103 369.3 L99 366.7 L95 363.3 L91.7 359.3 L90.3 356 L88.3 352.7 L85 350 L81 347.3 L77 345.3 L72.3 346 L67.7 344 L64.6 342 L64.3 339.3 L66.3 336.7 L69 333.3 L68.3 328.7 L70.3 326.7 L75 326 L81 326.7 L85.7 328 L88.3 326 L92.3 324 L95 322 L96.3 320 L95.7 313.3 L95 306.7 L94.3 300 L94 296 L97 285 L99 276 L100 268 L105 261 L108 258 L114 261 L119 258 L119 250 L120 234 L126 229 L132 220 L138 209 L147 206 L153 197 L154 188 L158 181 L160 170 L161 163 L167 161 L177 160 L179 158 L184 159 L193 155 L196 148 L200 147 L204 150 L209 153 L214 158 L220 157 L228 155 L231 153 L234 155 L235 158 L240 155 L243 151 L247 154 L250 159 L258 157 L266 158 L272 162 L280 169 L288 177 L296 185 L302 191 L308 198 L312 204 L318 211 L321 214 L314 226 L306 237 L304 248 L303 256 L316 255 L328 253 L334 254 L338 255 L334 262 L331 268 L333 274 L337 280 L344 288 L352 296 L360 304 L366 310 L370 312 L390 319 L412 327 L430 333 L448 339 L475 338.4 L468 347 L456 360 L444 372 L432 384 L420 395 L412 404 L402 415 L394 424 L380 423 L366 423.6 L356 426 L346 429 L340 432 L337 438 L330 442 L320 444 L312 446 L308 449 L304 449 L294 448 L287 449 L282 445 L277 442 L268 445.6 L258 449 L252 452 L247 460 L243 466 L232 464 L220 460 L208 459.6 L204 459.6 L200 457 L190 451 L180 444 L175.3 438.7 L170.7 436.4 L163.3 436.4 L154 436.4 L146.7 436 L142.7 431.3 L140.7 426 L141.3 420.7 L142 414 L138.7 410.7 L134 410.7 L128.7 412 L126.7 410 L124.7 406 L121.3 399.3 L118.7 391.3 L118 383.3 L115 380 L113.7 378.7 Z" fill="none" stroke="#3c3c3c" stroke-width="0.95" stroke-linejoin="round"/>
<rect x="58.3" y="140.4" width="422.9" height="330.3" fill="none" stroke="#000" stroke-width="1"/>
<line x1="91.25" y1="470.7" x2="91.25" y2="480.7" stroke="#000" stroke-width="1"/>
<text x="91.25" y="500.4" text-anchor="middle" class="ax">34°E</text>
<line x1="146.25" y1="470.7" x2="146.25" y2="480.7" stroke="#000" stroke-width="1"/>
<text x="146.25" y="500.4" text-anchor="middle" class="ax">36°E</text>
<line x1="201.25" y1="470.7" x2="201.25" y2="480.7" stroke="#000" stroke-width="1"/>
<text x="201.25" y="500.4" text-anchor="middle" class="ax">38°E</text>
<line x1="256.25" y1="470.7" x2="256.25" y2="480.7" stroke="#000" stroke-width="1"/>
<text x="256.25" y="500.4" text-anchor="middle" class="ax">40°E</text>
<line x1="311.25" y1="470.7" x2="311.25" y2="480.7" stroke="#000" stroke-width="1"/>
<text x="311.25" y="500.4" text-anchor="middle" class="ax">42°E</text>
<line x1="366.25" y1="470.7" x2="366.25" y2="480.7" stroke="#000" stroke-width="1"/>
<text x="366.25" y="500.4" text-anchor="middle" class="ax">44°E</text>
<line x1="421.25" y1="470.7" x2="421.25" y2="480.7" stroke="#000" stroke-width="1"/>
<text x="421.25" y="500.4" text-anchor="middle" class="ax">46°E</text>
<line x1="476.25" y1="470.7" x2="476.25" y2="480.7" stroke="#000" stroke-width="1"/>
<text x="476.25" y="500.4" text-anchor="middle" class="ax">48°E</text>
<line x1="48.8" y1="449" x2="58.3" y2="449" stroke="#000" stroke-width="1"/>
<text x="40" y="453.7" text-anchor="end" class="ax">4°N</text>
<line x1="48.8" y1="393.25" x2="58.3" y2="393.25" stroke="#000" stroke-width="1"/>
<text x="40" y="397.95" text-anchor="end" class="ax">6°N</text>
<line x1="48.8" y1="337.5" x2="58.3" y2="337.5" stroke="#000" stroke-width="1"/>
<text x="40" y="342.2" text-anchor="end" class="ax">8°N</text>
<line x1="48.8" y1="281.75" x2="58.3" y2="281.75" stroke="#000" stroke-width="1"/>
<text x="40" y="286.45" text-anchor="end" class="ax">10°N</text>
<line x1="48.8" y1="226" x2="58.3" y2="226" stroke="#000" stroke-width="1"/>
<text x="40" y="230.7" text-anchor="end" class="ax">12°N</text>
<line x1="48.8" y1="170.25" x2="58.3" y2="170.25" stroke="#000" stroke-width="1"/>
<text x="40" y="174.95" text-anchor="end" class="ax">14°N</text>
<g>
<rect x="419.2" y="136" width="58.3" height="49.7" fill="#fff"/>
<path d="M423.44 175.26 A26.20 26.20 0 1 1 473.56 175.26" fill="none" stroke="#3d8ee8" stroke-width="0.9"/>
<path d="M429.09 170.33 A19.60 19.60 0 1 1 467.91 170.33" fill="none" stroke="#a9d6f2" stroke-width="0.5"/>
<path d="M425.73 169.99 A22.90 22.90 0 1 1 471.27 169.99" fill="none" stroke="#22409f" stroke-width="3.2" stroke-dasharray="1.3 0.8 0.7 1.1 1.9 0.9 1.0 0.7" stroke-opacity="0.8"/>
<ellipse cx="441" cy="153.2" rx="3.3" ry="3.1" fill="#f0622a"/>
<ellipse cx="441.2" cy="153.6" rx="2.1" ry="2" fill="#ffc533"/>
<ellipse cx="448.8" cy="156.2" rx="12.6" ry="2.3" fill="#25356d"/>
<ellipse cx="446" cy="154.6" rx="5" ry="2.1" fill="#2b3d78"/>
<ellipse cx="452.5" cy="154.2" rx="5.2" ry="2.2" fill="#31488a"/>
<ellipse cx="449.5" cy="153.9" rx="3" ry="1" fill="#5a78b8"/>
<g stroke="#6a7aa0" stroke-width="0.5" stroke-dasharray="0.9 1.1">
<line x1="441.5" y1="159.5" x2="441" y2="163.5"/><line x1="444" y1="159.5" x2="443.5" y2="165"/><line x1="446.5" y1="159.5" x2="446" y2="164"/>
<line x1="449" y1="159.5" x2="448.5" y2="165.5"/><line x1="451.5" y1="159.5" x2="451" y2="164"/><line x1="454" y1="159.5" x2="453.5" y2="164.5"/><line x1="456.5" y1="159.5" x2="456" y2="162.5"/>
</g>
<path d="M424.2 175.4 L426 171.5 L430.5 168.7 L435.5 170.4 L440 168.6 L445.3 166.3 L450 168.5 L454 170.6 L459 171.3 L465 172.2 L471 172.4 L472.8 175.4 Z" fill="#3f9a2c"/>
<path d="M424.2 175.4 L427 173 L432 171.5 L437 173.2 L443 171.8 L447 173.5 L447.5 175.4 Z" fill="#2c6e1f"/>
<path d="M440 168.6 L445.3 166.3 L450 168.5 L446 169.5 L443 171 Z" fill="#6cc04a"/>
<path d="M455 171.5 L462 172 L471 172.4 L472.8 175.4 L452 175.4 Z" fill="#357f27"/>
<path d="M449.2 172 L453.6 171 L450.8 173.4 L449.6 175.4 L447.6 175.4 L449.6 173.2 Z" fill="#3cc0e6"/>
<text x="426.8" y="179.1" font-size="3.1" font-weight="bold" fill="#1f2f6b" textLength="43" lengthAdjust="spacingAndGlyphs" style="font-size:3.1px;fill:#1f2f6b">Ethiopian Meteorology Institute</text>
<path d="M427 181.2 L444.5 180.9 L444.5 181.7 Z" fill="#3b6fd8"/>
<path d="M470 181.2 L452.5 180.9 L452.5 181.7 Z" fill="#3b6fd8"/>
<ellipse cx="448.5" cy="181.4" rx="2.2" ry="1.2" fill="#fff" stroke="#444" stroke-width="0.5"/>
<line x1="447" y1="181.4" x2="450" y2="181.4" stroke="#444" stroke-width="0.5"/>
<line x1="477" y1="172.3" x2="481" y2="172.3" stroke="#222" stroke-width="1"/>
</g>
<rect x="523.3" y="145" width="25.4" height="40.3" fill="#ffb3b3" stroke="#555" stroke-opacity="0.7" stroke-width="0.5"/>
<rect x="523.3" y="185.3" width="25.4" height="40.3" fill="#ee0000" stroke="#555" stroke-opacity="0.7" stroke-width="0.5"/>
<rect x="523.3" y="225.6" width="25.4" height="40.3" fill="#ff8800" stroke="#555" stroke-opacity="0.7" stroke-width="0.5"/>
<rect x="523.3" y="265.9" width="25.4" height="40.3" fill="#ffe24a" stroke="#555" stroke-opacity="0.7" stroke-width="0.5"/>
<rect x="523.3" y="306.2" width="25.4" height="40.3" fill="#9bd3ee" stroke="#555" stroke-opacity="0.7" stroke-width="0.5"/>
<rect x="523.3" y="346.5" width="25.4" height="40.3" fill="#14a0ff" stroke="#555" stroke-opacity="0.7" stroke-width="0.5"/>
<rect x="523.3" y="386.8" width="25.4" height="40.3" fill="#3050e6" stroke="#555" stroke-opacity="0.7" stroke-width="0.5"/>
<rect x="523.3" y="427.1" width="25.4" height="40.3" fill="#8020ee" stroke="#555" stroke-opacity="0.7" stroke-width="0.5"/>
<text x="562" y="189.4" text-anchor="middle" class="cb">25</text>
<text x="562" y="229.7" text-anchor="middle" class="cb">21</text>
<text x="562" y="270" text-anchor="middle" class="cb">17</text>
<text x="562" y="310.3" text-anchor="middle" class="cb">13</text>
<text x="562" y="350.6" text-anchor="middle" class="cb">9</text>
<text x="562" y="390.9" text-anchor="middle" class="cb">5</text>
<text x="562" y="431.2" text-anchor="middle" class="cb">1</text>
<text x="58.5" y="113.8" class="title" textLength="425.5" lengthAdjust="spacingAndGlyphs">Daily minimum temperature (C) for 11-12 Nov 2025</text>
</svg>
</body></html>
